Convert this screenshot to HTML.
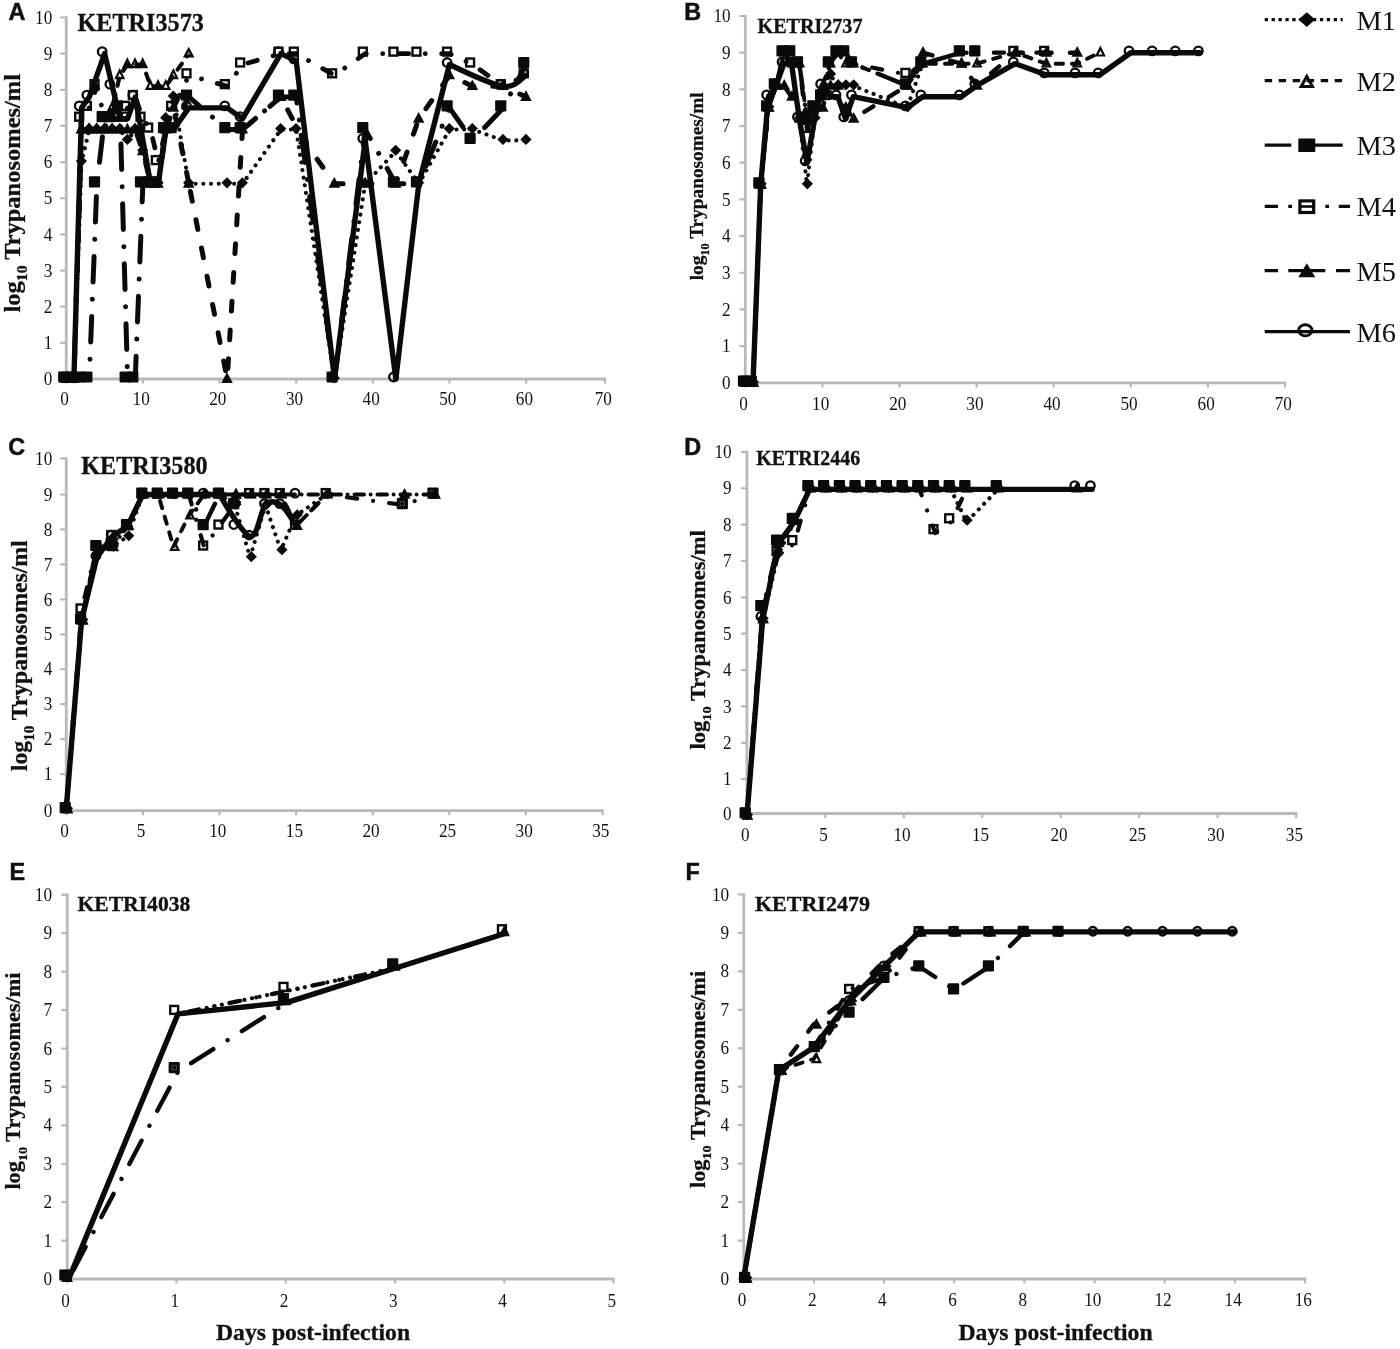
<!DOCTYPE html>
<html lang="en"><head><meta charset="utf-8"><title>Parasitaemia profiles</title>
<style>html,body{margin:0;padding:0;background:#fff}svg{display:block}</style></head>
<body>
<svg width="1400" height="1349" viewBox="0 0 1400 1349">
<rect width="1400" height="1349" fill="#fff"/>
<g id="panelA">
<path d="M66.25 16.3V379H606.2" fill="none" stroke="#b9b9b9" stroke-width="2.8"/>
<path d="M60.25 379H66.25M60.25 342.85H66.25M60.25 306.7H66.25M60.25 270.55H66.25M60.25 234.4H66.25M60.25 198.25H66.25M60.25 162.1H66.25M60.25 125.95H66.25M60.25 89.8H66.25M60.25 53.65H66.25M60.25 17.5H66.25M66.25 379V383.6M142.9 379V383.6M219.55 379V383.6M296.2 379V383.6M372.85 379V383.6M449.5 379V383.6M526.15 379V383.6M605 379V383.6" fill="none" stroke="#b9b9b9" stroke-width="2.2"/>
<g font-family='"Liberation Serif", serif' font-size="18.7" fill="#111">
<text transform="translate(52.3 385.17) scale(0.92 1)" text-anchor="end">0</text>
<text transform="translate(52.3 349.02) scale(0.92 1)" text-anchor="end">1</text>
<text transform="translate(52.3 312.87) scale(0.92 1)" text-anchor="end">2</text>
<text transform="translate(52.3 276.72) scale(0.92 1)" text-anchor="end">3</text>
<text transform="translate(52.3 240.57) scale(0.92 1)" text-anchor="end">4</text>
<text transform="translate(52.3 204.42) scale(0.92 1)" text-anchor="end">5</text>
<text transform="translate(52.3 168.27) scale(0.92 1)" text-anchor="end">6</text>
<text transform="translate(52.3 132.12) scale(0.92 1)" text-anchor="end">7</text>
<text transform="translate(52.3 95.97) scale(0.92 1)" text-anchor="end">8</text>
<text transform="translate(52.3 59.82) scale(0.92 1)" text-anchor="end">9</text>
<text transform="translate(52.3 23.67) scale(0.92 1)" text-anchor="end">10</text>
<text transform="translate(64.55 405.17) scale(0.92 1)" text-anchor="middle">0</text>
<text transform="translate(141.2 405.17) scale(0.92 1)" text-anchor="middle">10</text>
<text transform="translate(217.85 405.17) scale(0.92 1)" text-anchor="middle">20</text>
<text transform="translate(294.5 405.17) scale(0.92 1)" text-anchor="middle">30</text>
<text transform="translate(371.15 405.17) scale(0.92 1)" text-anchor="middle">40</text>
<text transform="translate(447.8 405.17) scale(0.92 1)" text-anchor="middle">50</text>
<text transform="translate(524.45 405.17) scale(0.92 1)" text-anchor="middle">60</text>
<text transform="translate(603.3 405.17) scale(0.92 1)" text-anchor="middle">70</text>
</g>
<text x="8.6" y="20.2" font-family='"Liberation Sans", sans-serif' font-weight="bold" font-size="23.4" fill="#111" stroke="#111" stroke-width="0.5">A</text>
<text x="77.5" y="30.6" font-family='"Liberation Serif", serif' font-weight="bold" font-size="24.2" fill="#111" stroke="#111" stroke-width="0.3">KETRI3573</text>
<text transform="translate(20.1 312.5) rotate(-90) scale(1 0.93)" font-family='"Liberation Serif", serif' font-weight="bold" font-size="24.5" fill="#111" stroke="#111" stroke-width="0.3">log<tspan font-size="15.68" dy="7.84">10</tspan><tspan dy="-7.84"> Trypanosomes/ml</tspan></text>
<path d="M66.25 379L73.92 379L81.58 162.1L89.25 129.56L96.91 129.56L104.58 129.56L112.24 129.56L119.91 129.56L127.57 140.41L135.24 129.56L142.9 151.26L150.56 183.79L158.23 183.79L165.89 118.72L173.56 97.03L188.89 183.79L227.22 183.79L242.54 183.79L280.87 129.56L296.2 129.56L334.52 379L365.19 183.79L395.85 151.26L418.84 183.79L449.5 129.56L472.5 129.56L503.16 140.41L526.15 140.41" fill="none" stroke="#0a0a0a" stroke-width="4.1" stroke-linecap="round" stroke-linejoin="round" stroke-dasharray="0.01 7.7"/>
<path d="M66.05 372.4L71.65 378L66.05 383.6L60.45 378Z" fill="#0a0a0a"/>
<path d="M73.72 372.4L79.31 378L73.72 383.6L68.12 378Z" fill="#0a0a0a"/>
<path d="M81.38 155.5L86.98 161.1L81.38 166.7L75.78 161.1Z" fill="#0a0a0a"/>
<path d="M89.05 122.97L94.64 128.56L89.05 134.16L83.45 128.56Z" fill="#0a0a0a"/>
<path d="M96.71 122.97L102.31 128.56L96.71 134.16L91.11 128.56Z" fill="#0a0a0a"/>
<path d="M104.38 122.97L109.97 128.56L104.38 134.16L98.78 128.56Z" fill="#0a0a0a"/>
<path d="M112.04 122.97L117.64 128.56L112.04 134.16L106.44 128.56Z" fill="#0a0a0a"/>
<path d="M119.7 122.97L125.3 128.56L119.7 134.16L114.11 128.56Z" fill="#0a0a0a"/>
<path d="M127.37 133.81L132.97 139.41L127.37 145.01L121.77 139.41Z" fill="#0a0a0a"/>
<path d="M135.04 122.97L140.64 128.56L135.04 134.16L129.44 128.56Z" fill="#0a0a0a"/>
<path d="M142.7 144.66L148.3 150.26L142.7 155.86L137.1 150.26Z" fill="#0a0a0a"/>
<path d="M150.37 177.19L155.97 182.79L150.37 188.39L144.77 182.79Z" fill="#0a0a0a"/>
<path d="M158.03 177.19L163.63 182.79L158.03 188.39L152.43 182.79Z" fill="#0a0a0a"/>
<path d="M165.69 112.12L171.29 117.72L165.69 123.32L160.09 117.72Z" fill="#0a0a0a"/>
<path d="M173.36 90.43L178.96 96.03L173.36 101.63L167.76 96.03Z" fill="#0a0a0a"/>
<path d="M188.69 177.19L194.29 182.79L188.69 188.39L183.09 182.79Z" fill="#0a0a0a"/>
<path d="M227.02 177.19L232.62 182.79L227.02 188.39L221.42 182.79Z" fill="#0a0a0a"/>
<path d="M242.34 177.19L247.94 182.79L242.34 188.39L236.75 182.79Z" fill="#0a0a0a"/>
<path d="M280.67 122.97L286.27 128.56L280.67 134.16L275.07 128.56Z" fill="#0a0a0a"/>
<path d="M296 122.97L301.6 128.56L296 134.16L290.4 128.56Z" fill="#0a0a0a"/>
<path d="M334.32 372.4L339.93 378L334.32 383.6L328.72 378Z" fill="#0a0a0a"/>
<path d="M364.99 177.19L370.59 182.79L364.99 188.39L359.38 182.79Z" fill="#0a0a0a"/>
<path d="M395.65 144.66L401.25 150.26L395.65 155.86L390.05 150.26Z" fill="#0a0a0a"/>
<path d="M418.64 177.19L424.24 182.79L418.64 188.39L413.04 182.79Z" fill="#0a0a0a"/>
<path d="M449.3 122.97L454.9 128.56L449.3 134.16L443.7 128.56Z" fill="#0a0a0a"/>
<path d="M472.3 122.97L477.9 128.56L472.3 134.16L466.69 128.56Z" fill="#0a0a0a"/>
<path d="M502.96 133.81L508.56 139.41L502.96 145.01L497.36 139.41Z" fill="#0a0a0a"/>
<path d="M525.95 133.81L531.55 139.41L525.95 145.01L520.35 139.41Z" fill="#0a0a0a"/>
<path d="M66.25 379L73.92 379L81.58 129.56L89.25 129.56L96.91 129.56L104.58 129.56L112.24 107.88L119.91 75.34L127.57 64.5L135.24 64.5L142.9 64.5L150.56 86.19L158.23 86.19L165.89 86.19L173.56 75.34L188.89 53.65" fill="none" stroke="#0a0a0a" stroke-width="4.1" stroke-linecap="round" stroke-linejoin="round" stroke-dasharray="7.4 8.9"/>
<path d="M66.05 374.12L69.75 381.7L62.35 381.7Z" fill="none" stroke="#0a0a0a" stroke-width="2.2" stroke-linejoin="miter"/>
<path d="M73.72 374.12L77.42 381.7L70.02 381.7Z" fill="none" stroke="#0a0a0a" stroke-width="2.2" stroke-linejoin="miter"/>
<path d="M81.38 124.68L85.08 132.26L77.68 132.26Z" fill="none" stroke="#0a0a0a" stroke-width="2.2" stroke-linejoin="miter"/>
<path d="M89.05 124.68L92.75 132.26L85.34 132.26Z" fill="none" stroke="#0a0a0a" stroke-width="2.2" stroke-linejoin="miter"/>
<path d="M96.71 124.68L100.41 132.26L93.01 132.26Z" fill="none" stroke="#0a0a0a" stroke-width="2.2" stroke-linejoin="miter"/>
<path d="M104.38 124.68L108.08 132.26L100.67 132.26Z" fill="none" stroke="#0a0a0a" stroke-width="2.2" stroke-linejoin="miter"/>
<path d="M112.04 102.99L115.74 110.58L108.34 110.58Z" fill="none" stroke="#0a0a0a" stroke-width="2.2" stroke-linejoin="miter"/>
<path d="M119.7 70.45L123.41 78.04L116 78.04Z" fill="none" stroke="#0a0a0a" stroke-width="2.2" stroke-linejoin="miter"/>
<path d="M127.37 59.61L131.07 67.2L123.67 67.2Z" fill="none" stroke="#0a0a0a" stroke-width="2.2" stroke-linejoin="miter"/>
<path d="M135.04 59.61L138.74 67.2L131.34 67.2Z" fill="none" stroke="#0a0a0a" stroke-width="2.2" stroke-linejoin="miter"/>
<path d="M142.7 59.61L146.4 67.2L139 67.2Z" fill="none" stroke="#0a0a0a" stroke-width="2.2" stroke-linejoin="miter"/>
<path d="M150.37 81.3L154.06 88.89L146.67 88.89Z" fill="none" stroke="#0a0a0a" stroke-width="2.2" stroke-linejoin="miter"/>
<path d="M158.03 81.3L161.73 88.89L154.33 88.89Z" fill="none" stroke="#0a0a0a" stroke-width="2.2" stroke-linejoin="miter"/>
<path d="M165.69 81.3L169.39 88.89L162 88.89Z" fill="none" stroke="#0a0a0a" stroke-width="2.2" stroke-linejoin="miter"/>
<path d="M173.36 70.45L177.06 78.04L169.66 78.04Z" fill="none" stroke="#0a0a0a" stroke-width="2.2" stroke-linejoin="miter"/>
<path d="M188.69 46.85L194.49 57.58L182.89 57.58Z" fill="#0a0a0a"/><path d="M188.69 51.05L190.59 54.85L186.79 54.85Z" fill="#777"/>
<path d="M66.25 379L73.92 379L81.58 379L89.25 379L96.91 183.79L104.58 118.72L112.24 118.72L119.91 107.88" fill="none" stroke="#0a0a0a" stroke-width="5.0" stroke-linecap="round" stroke-linejoin="round" stroke-dasharray="25.6 17.2 0.01 17.2"/>
<path d="M119.91 107.88L127.57 379L135.24 379L142.9 183.79L150.56 183.79L158.23 183.79L165.89 129.56L173.56 129.56L188.89 97.03L227.22 129.56L242.54 129.56" fill="none" stroke="#0a0a0a" stroke-width="5.0" stroke-linecap="round" stroke-linejoin="round" stroke-dasharray="25.6 17.2 0.01 17.2" stroke-dashoffset="24"/>
<path d="M242.54 129.56L280.87 97.03L296.2 97.03L334.52 379L365.19 129.56L395.85 183.79L418.84 183.79L449.5 107.88L472.5 140.41L503.16 107.88L526.15 64.5" fill="none" stroke="#0a0a0a" stroke-width="5.0" stroke-linecap="round" stroke-linejoin="round" stroke-dasharray="25.6 17.2 0.01 17.2" stroke-dashoffset="14"/>
<rect x="58.25" y="371.4" width="11.2" height="11.2" rx="1" fill="#0a0a0a"/>
<rect x="65.92" y="371.4" width="11.2" height="11.2" rx="1" fill="#0a0a0a"/>
<rect x="73.58" y="371.4" width="11.2" height="11.2" rx="1" fill="#0a0a0a"/>
<rect x="81.25" y="371.4" width="11.2" height="11.2" rx="1" fill="#0a0a0a"/>
<rect x="88.91" y="176.19" width="11.2" height="11.2" rx="1" fill="#0a0a0a"/>
<rect x="96.58" y="111.12" width="11.2" height="11.2" rx="1" fill="#0a0a0a"/>
<rect x="104.24" y="111.12" width="11.2" height="11.2" rx="1" fill="#0a0a0a"/>
<rect x="111.91" y="100.28" width="11.2" height="11.2" rx="1" fill="#0a0a0a"/>
<rect x="119.57" y="371.4" width="11.2" height="11.2" rx="1" fill="#0a0a0a"/>
<rect x="127.24" y="371.4" width="11.2" height="11.2" rx="1" fill="#0a0a0a"/>
<rect x="134.9" y="176.19" width="11.2" height="11.2" rx="1" fill="#0a0a0a"/>
<rect x="142.56" y="176.19" width="11.2" height="11.2" rx="1" fill="#0a0a0a"/>
<rect x="150.23" y="176.19" width="11.2" height="11.2" rx="1" fill="#0a0a0a"/>
<rect x="157.89" y="121.97" width="11.2" height="11.2" rx="1" fill="#0a0a0a"/>
<rect x="165.56" y="121.97" width="11.2" height="11.2" rx="1" fill="#0a0a0a"/>
<rect x="180.89" y="89.43" width="11.2" height="11.2" rx="1" fill="#0a0a0a"/>
<rect x="219.22" y="121.97" width="11.2" height="11.2" rx="1" fill="#0a0a0a"/>
<rect x="234.54" y="121.97" width="11.2" height="11.2" rx="1" fill="#0a0a0a"/>
<rect x="272.87" y="89.43" width="11.2" height="11.2" rx="1" fill="#0a0a0a"/>
<rect x="288.2" y="89.43" width="11.2" height="11.2" rx="1" fill="#0a0a0a"/>
<rect x="326.52" y="371.4" width="11.2" height="11.2" rx="1" fill="#0a0a0a"/>
<rect x="357.19" y="121.97" width="11.2" height="11.2" rx="1" fill="#0a0a0a"/>
<rect x="387.85" y="176.19" width="11.2" height="11.2" rx="1" fill="#0a0a0a"/>
<rect x="410.84" y="176.19" width="11.2" height="11.2" rx="1" fill="#0a0a0a"/>
<rect x="441.5" y="100.28" width="11.2" height="11.2" rx="1" fill="#0a0a0a"/>
<rect x="464.5" y="132.81" width="11.2" height="11.2" rx="1" fill="#0a0a0a"/>
<rect x="495.16" y="100.28" width="11.2" height="11.2" rx="1" fill="#0a0a0a"/>
<rect x="518.15" y="56.9" width="11.2" height="11.2" rx="1" fill="#0a0a0a"/>
<path d="M66.25 379L73.92 379L81.58 118.72L89.25 107.88L96.91 86.19L104.58 118.72L112.24 118.72L119.91 118.72L127.57 107.88L135.24 97.03L142.9 118.72L150.56 129.56L158.23 162.1L165.89 129.56L173.56 107.88L188.89 75.34" fill="none" stroke="#0a0a0a" stroke-width="4.8" stroke-linecap="round" stroke-linejoin="round" stroke-dasharray="9.7 16.4 0.01 16.4"/>
<path d="M188.89 75.34L227.22 86.19L242.54 64.5L280.87 53.65L296.2 53.65" fill="none" stroke="#0a0a0a" stroke-width="4.8" stroke-linecap="round" stroke-linejoin="round" stroke-dasharray="9.7 16.4 0.01 16.4" stroke-dashoffset="13"/>
<path d="M296.2 53.65L334.52 75.34L365.19 53.65L395.85 53.65L418.84 53.65L449.5 53.65L472.5 64.5L503.16 86.19L526.15 75.34" fill="none" stroke="#0a0a0a" stroke-width="4.8" stroke-linecap="round" stroke-linejoin="round" stroke-dasharray="9.7 16.4 0.01 16.4" stroke-dashoffset="12"/>
<rect x="59.9" y="373.05" width="7.9" height="7.9" fill="none" stroke="#0a0a0a" stroke-width="2.4"/>
<rect x="67.56" y="373.05" width="7.9" height="7.9" fill="none" stroke="#0a0a0a" stroke-width="2.4"/>
<rect x="75.23" y="112.77" width="7.9" height="7.9" fill="none" stroke="#0a0a0a" stroke-width="2.4"/>
<rect x="82.89" y="101.92" width="7.9" height="7.9" fill="none" stroke="#0a0a0a" stroke-width="2.4"/>
<rect x="90.56" y="80.23" width="7.9" height="7.9" fill="none" stroke="#0a0a0a" stroke-width="2.4"/>
<rect x="98.22" y="112.77" width="7.9" height="7.9" fill="none" stroke="#0a0a0a" stroke-width="2.4"/>
<rect x="105.89" y="112.77" width="7.9" height="7.9" fill="none" stroke="#0a0a0a" stroke-width="2.4"/>
<rect x="113.55" y="112.77" width="7.9" height="7.9" fill="none" stroke="#0a0a0a" stroke-width="2.4"/>
<rect x="121.22" y="101.92" width="7.9" height="7.9" fill="none" stroke="#0a0a0a" stroke-width="2.4"/>
<rect x="128.89" y="91.08" width="7.9" height="7.9" fill="none" stroke="#0a0a0a" stroke-width="2.4"/>
<rect x="136.55" y="112.77" width="7.9" height="7.9" fill="none" stroke="#0a0a0a" stroke-width="2.4"/>
<rect x="144.22" y="123.61" width="7.9" height="7.9" fill="none" stroke="#0a0a0a" stroke-width="2.4"/>
<rect x="151.88" y="156.15" width="7.9" height="7.9" fill="none" stroke="#0a0a0a" stroke-width="2.4"/>
<rect x="159.54" y="123.61" width="7.9" height="7.9" fill="none" stroke="#0a0a0a" stroke-width="2.4"/>
<rect x="167.21" y="101.92" width="7.9" height="7.9" fill="none" stroke="#0a0a0a" stroke-width="2.4"/>
<rect x="182.54" y="69.39" width="7.9" height="7.9" fill="none" stroke="#0a0a0a" stroke-width="2.4"/>
<rect x="220.87" y="80.23" width="7.9" height="7.9" fill="none" stroke="#0a0a0a" stroke-width="2.4"/>
<rect x="236.19" y="58.55" width="7.9" height="7.9" fill="none" stroke="#0a0a0a" stroke-width="2.4"/>
<rect x="274.52" y="47.7" width="7.9" height="7.9" fill="none" stroke="#0a0a0a" stroke-width="2.4"/>
<rect x="289.85" y="47.7" width="7.9" height="7.9" fill="none" stroke="#0a0a0a" stroke-width="2.4"/>
<rect x="328.18" y="69.39" width="7.9" height="7.9" fill="none" stroke="#0a0a0a" stroke-width="2.4"/>
<rect x="358.84" y="47.7" width="7.9" height="7.9" fill="none" stroke="#0a0a0a" stroke-width="2.4"/>
<rect x="389.5" y="47.7" width="7.9" height="7.9" fill="none" stroke="#0a0a0a" stroke-width="2.4"/>
<rect x="412.49" y="47.7" width="7.9" height="7.9" fill="none" stroke="#0a0a0a" stroke-width="2.4"/>
<rect x="443.15" y="47.7" width="7.9" height="7.9" fill="none" stroke="#0a0a0a" stroke-width="2.4"/>
<rect x="466.15" y="58.55" width="7.9" height="7.9" fill="none" stroke="#0a0a0a" stroke-width="2.4"/>
<rect x="496.81" y="80.23" width="7.9" height="7.9" fill="none" stroke="#0a0a0a" stroke-width="2.4"/>
<rect x="519.8" y="69.39" width="7.9" height="7.9" fill="none" stroke="#0a0a0a" stroke-width="2.4"/>
<path d="M66.25 379L73.92 379L81.58 129.56L89.25 129.56L96.91 129.56L104.58 129.56L112.24 129.56L119.91 129.56L127.57 129.56L135.24 129.56L142.9 151.26L150.56 183.79L158.23 183.79L165.89 129.56L173.56 107.88L188.89 183.79" fill="none" stroke="#0a0a0a" stroke-width="5.0" stroke-linecap="round" stroke-linejoin="round" stroke-dasharray="9.9 18.9"/>
<path d="M188.89 183.79L227.22 379L242.54 129.56" fill="none" stroke="#0a0a0a" stroke-width="5.0" stroke-linecap="round" stroke-linejoin="round" stroke-dasharray="9.9 18.9" stroke-dashoffset="21"/>
<path d="M242.54 129.56L280.87 97.03L303.87 140.41L334.52 183.79L365.19 183.79L395.85 183.79L418.84 118.72L449.5 75.34L472.5 86.19L503.16 86.19L526.15 97.03" fill="none" stroke="#0a0a0a" stroke-width="5.0" stroke-linecap="round" stroke-linejoin="round" stroke-dasharray="9.9 18.9" stroke-dashoffset="21.6"/>
<path d="M66.05 372.2L71.85 382.93L60.25 382.93Z" fill="#0a0a0a"/>
<path d="M73.72 372.2L79.52 382.93L67.92 382.93Z" fill="#0a0a0a"/>
<path d="M81.38 122.77L87.18 133.5L75.58 133.5Z" fill="#0a0a0a"/>
<path d="M89.05 122.77L94.84 133.5L83.25 133.5Z" fill="#0a0a0a"/>
<path d="M96.71 122.77L102.51 133.5L90.91 133.5Z" fill="#0a0a0a"/>
<path d="M104.38 122.77L110.17 133.5L98.58 133.5Z" fill="#0a0a0a"/>
<path d="M112.04 122.77L117.84 133.5L106.24 133.5Z" fill="#0a0a0a"/>
<path d="M119.7 122.77L125.5 133.5L113.91 133.5Z" fill="#0a0a0a"/>
<path d="M127.37 122.77L133.17 133.5L121.57 133.5Z" fill="#0a0a0a"/>
<path d="M135.04 122.77L140.84 133.5L129.24 133.5Z" fill="#0a0a0a"/>
<path d="M142.7 144.46L148.5 155.19L136.9 155.19Z" fill="#0a0a0a"/>
<path d="M150.37 176.99L156.17 187.72L144.56 187.72Z" fill="#0a0a0a"/>
<path d="M158.03 176.99L163.83 187.72L152.23 187.72Z" fill="#0a0a0a"/>
<path d="M165.69 122.77L171.5 133.5L159.89 133.5Z" fill="#0a0a0a"/>
<path d="M173.36 101.08L179.16 111.81L167.56 111.81Z" fill="#0a0a0a"/>
<path d="M188.69 176.99L194.49 187.72L182.89 187.72Z" fill="#0a0a0a"/>
<path d="M227.02 372.2L232.82 382.93L221.22 382.93Z" fill="#0a0a0a"/>
<path d="M242.34 122.77L248.15 133.5L236.54 133.5Z" fill="#0a0a0a"/>
<path d="M280.67 90.23L286.47 100.96L274.87 100.96Z" fill="#0a0a0a"/>
<path d="M303.67 133.61L309.47 144.34L297.87 144.34Z" fill="#0a0a0a"/>
<path d="M334.32 176.99L340.12 187.72L328.52 187.72Z" fill="#0a0a0a"/>
<path d="M364.99 176.99L370.79 187.72L359.19 187.72Z" fill="#0a0a0a"/>
<path d="M395.65 176.99L401.45 187.72L389.85 187.72Z" fill="#0a0a0a"/>
<path d="M418.64 111.92L424.44 122.65L412.84 122.65Z" fill="#0a0a0a"/>
<path d="M449.3 68.54L455.1 79.27L443.5 79.27Z" fill="#0a0a0a"/>
<path d="M472.3 79.39L478.1 90.12L466.5 90.12Z" fill="#0a0a0a"/>
<path d="M502.96 79.39L508.76 90.12L497.16 90.12Z" fill="#0a0a0a"/>
<path d="M525.95 90.23L531.75 100.96L520.15 100.96Z" fill="#0a0a0a"/>
<path d="M66.25 379L73.92 379L81.58 107.88L89.25 97.03L104.58 53.65L112.24 86.19L119.91 118.72L127.57 118.72L135.24 97.03L150.56 183.79L158.23 183.79L165.89 129.56L173.56 129.56L188.89 107.88L227.22 107.88L242.54 118.72L280.87 53.65L296.2 60.88L334.52 379L365.19 140.41L395.85 379L418.84 183.79L449.5 64.5C449.5 64.5 490.38 84.38 503.16 86.19C515.93 87.99 522.32 77.15 526.15 75.34" fill="none" stroke="#0a0a0a" stroke-width="5.4" stroke-linecap="round" stroke-linejoin="round"/>
<circle cx="63.85" cy="377" r="4.25" fill="none" stroke="#0a0a0a" stroke-width="2.3"/>
<circle cx="71.52" cy="377" r="4.25" fill="none" stroke="#0a0a0a" stroke-width="2.3"/>
<circle cx="79.18" cy="105.88" r="4.25" fill="none" stroke="#0a0a0a" stroke-width="2.3"/>
<circle cx="86.84" cy="95.03" r="4.25" fill="none" stroke="#0a0a0a" stroke-width="2.3"/>
<circle cx="102.17" cy="51.65" r="4.25" fill="none" stroke="#0a0a0a" stroke-width="2.3"/>
<circle cx="109.84" cy="84.19" r="4.25" fill="none" stroke="#0a0a0a" stroke-width="2.3"/>
<circle cx="117.5" cy="116.72" r="4.25" fill="none" stroke="#0a0a0a" stroke-width="2.3"/>
<circle cx="125.17" cy="116.72" r="4.25" fill="none" stroke="#0a0a0a" stroke-width="2.3"/>
<circle cx="132.84" cy="95.03" r="4.25" fill="none" stroke="#0a0a0a" stroke-width="2.3"/>
<circle cx="148.16" cy="181.79" r="4.25" fill="none" stroke="#0a0a0a" stroke-width="2.3"/>
<circle cx="155.83" cy="181.79" r="4.25" fill="none" stroke="#0a0a0a" stroke-width="2.3"/>
<circle cx="163.49" cy="127.56" r="4.25" fill="none" stroke="#0a0a0a" stroke-width="2.3"/>
<circle cx="171.16" cy="127.56" r="4.25" fill="none" stroke="#0a0a0a" stroke-width="2.3"/>
<circle cx="186.49" cy="105.88" r="4.25" fill="none" stroke="#0a0a0a" stroke-width="2.3"/>
<circle cx="224.81" cy="105.88" r="4.25" fill="none" stroke="#0a0a0a" stroke-width="2.3"/>
<circle cx="240.14" cy="116.72" r="4.25" fill="none" stroke="#0a0a0a" stroke-width="2.3"/>
<circle cx="278.47" cy="51.65" r="4.25" fill="none" stroke="#0a0a0a" stroke-width="2.3"/>
<circle cx="293.8" cy="58.88" r="4.25" fill="none" stroke="#0a0a0a" stroke-width="2.3"/>
<circle cx="332.12" cy="377" r="4.25" fill="none" stroke="#0a0a0a" stroke-width="2.3"/>
<circle cx="362.79" cy="138.41" r="4.25" fill="none" stroke="#0a0a0a" stroke-width="2.3"/>
<circle cx="393.45" cy="377" r="4.25" fill="none" stroke="#0a0a0a" stroke-width="2.3"/>
<circle cx="416.44" cy="181.79" r="4.25" fill="none" stroke="#0a0a0a" stroke-width="2.3"/>
<circle cx="447.1" cy="62.5" r="4.25" fill="none" stroke="#0a0a0a" stroke-width="2.3"/>
<circle cx="500.76" cy="84.19" r="4.25" fill="none" stroke="#0a0a0a" stroke-width="2.3"/>
<circle cx="523.75" cy="73.34" r="4.25" fill="none" stroke="#0a0a0a" stroke-width="2.3"/>
</g>
<g id="panelB">
<path d="M745.3 14.8V382.8H1286.2" fill="none" stroke="#b9b9b9" stroke-width="2.8"/>
<path d="M739.3 382.8H745.3M739.3 346.12H745.3M739.3 309.44H745.3M739.3 272.76H745.3M739.3 236.08H745.3M739.3 199.4H745.3M739.3 162.72H745.3M739.3 126.04H745.3M739.3 89.36H745.3M739.3 52.68H745.3M739.3 16H745.3M745.3 382.8V387.4M822.4 382.8V387.4M899.5 382.8V387.4M976.6 382.8V387.4M1053.7 382.8V387.4M1130.8 382.8V387.4M1207.9 382.8V387.4M1285 382.8V387.4" fill="none" stroke="#b9b9b9" stroke-width="2.2"/>
<g font-family='"Liberation Serif", serif' font-size="18.7" fill="#111">
<text transform="translate(730.6 388.97) scale(0.92 1)" text-anchor="end">0</text>
<text transform="translate(730.6 352.29) scale(0.92 1)" text-anchor="end">1</text>
<text transform="translate(730.6 315.61) scale(0.92 1)" text-anchor="end">2</text>
<text transform="translate(730.6 278.93) scale(0.92 1)" text-anchor="end">3</text>
<text transform="translate(730.6 242.25) scale(0.92 1)" text-anchor="end">4</text>
<text transform="translate(730.6 205.57) scale(0.92 1)" text-anchor="end">5</text>
<text transform="translate(730.6 168.89) scale(0.92 1)" text-anchor="end">6</text>
<text transform="translate(730.6 132.21) scale(0.92 1)" text-anchor="end">7</text>
<text transform="translate(730.6 95.53) scale(0.92 1)" text-anchor="end">8</text>
<text transform="translate(730.6 58.85) scale(0.92 1)" text-anchor="end">9</text>
<text transform="translate(730.6 22.17) scale(0.92 1)" text-anchor="end">10</text>
<text transform="translate(743.6 409.87) scale(0.92 1)" text-anchor="middle">0</text>
<text transform="translate(820.7 409.87) scale(0.92 1)" text-anchor="middle">10</text>
<text transform="translate(897.8 409.87) scale(0.92 1)" text-anchor="middle">20</text>
<text transform="translate(974.9 409.87) scale(0.92 1)" text-anchor="middle">30</text>
<text transform="translate(1052 409.87) scale(0.92 1)" text-anchor="middle">40</text>
<text transform="translate(1129.1 409.87) scale(0.92 1)" text-anchor="middle">50</text>
<text transform="translate(1206.2 409.87) scale(0.92 1)" text-anchor="middle">60</text>
<text transform="translate(1283.3 409.87) scale(0.92 1)" text-anchor="middle">70</text>
</g>
<text x="684.3" y="20.2" font-family='"Liberation Sans", sans-serif' font-weight="bold" font-size="23.4" fill="#111" stroke="#111" stroke-width="0.5">B</text>
<text x="757.5" y="32.75" font-family='"Liberation Serif", serif' font-weight="bold" font-size="20.1" fill="#111" stroke="#111" stroke-width="0.3">KETRI2737</text>
<text transform="translate(703.25 280.3) rotate(-90) scale(1 0.93)" font-family='"Liberation Serif", serif' font-weight="bold" font-size="19.3" fill="#111" stroke="#111" stroke-width="0.3">log<tspan font-size="12.35" dy="6.18">10</tspan><tspan dy="-6.18"> Trypanosomes/ml</tspan></text>
<path d="M745.3 382.8L753.01 382.8L760.72 184.73L768.43 107.7L776.14 85.69L783.85 52.68L791.56 63.68L799.27 118.7L806.98 184.73L814.69 118.7L822.4 96.7L830.11 74.69L837.82 85.69L845.53 85.69L853.24 85.69L907.21 107.7L922.63 63.68" fill="none" stroke="#0a0a0a" stroke-width="4.1" stroke-linecap="round" stroke-linejoin="round" stroke-dasharray="0.01 7.7"/>
<path d="M745.7 376.3L751.3 381.9L745.7 387.5L740.1 381.9Z" fill="#0a0a0a"/>
<path d="M753.41 376.3L759.01 381.9L753.41 387.5L747.81 381.9Z" fill="#0a0a0a"/>
<path d="M761.12 178.23L766.72 183.83L761.12 189.43L755.52 183.83Z" fill="#0a0a0a"/>
<path d="M768.83 101.2L774.43 106.8L768.83 112.4L763.23 106.8Z" fill="#0a0a0a"/>
<path d="M776.54 79.19L782.14 84.79L776.54 90.39L770.94 84.79Z" fill="#0a0a0a"/>
<path d="M784.25 46.18L789.85 51.78L784.25 57.38L778.65 51.78Z" fill="#0a0a0a"/>
<path d="M791.96 57.18L797.56 62.78L791.96 68.38L786.36 62.78Z" fill="#0a0a0a"/>
<path d="M799.67 112.2L805.27 117.8L799.67 123.4L794.07 117.8Z" fill="#0a0a0a"/>
<path d="M807.38 178.23L812.98 183.83L807.38 189.43L801.78 183.83Z" fill="#0a0a0a"/>
<path d="M815.09 112.2L820.69 117.8L815.09 123.4L809.49 117.8Z" fill="#0a0a0a"/>
<path d="M822.8 90.2L828.4 95.8L822.8 101.4L817.2 95.8Z" fill="#0a0a0a"/>
<path d="M830.51 68.19L836.11 73.79L830.51 79.39L824.91 73.79Z" fill="#0a0a0a"/>
<path d="M838.22 79.19L843.82 84.79L838.22 90.39L832.62 84.79Z" fill="#0a0a0a"/>
<path d="M845.93 79.19L851.53 84.79L845.93 90.39L840.33 84.79Z" fill="#0a0a0a"/>
<path d="M853.64 79.19L859.24 84.79L853.64 90.39L848.04 84.79Z" fill="#0a0a0a"/>
<path d="M907.61 101.2L913.21 106.8L907.61 112.4L902.01 106.8Z" fill="#0a0a0a"/>
<path d="M923.03 57.18L928.63 62.78L923.03 68.38L917.43 62.78Z" fill="#0a0a0a"/>
<path d="M745.3 382.8L753.01 382.8L760.72 184.73L768.43 107.7L776.14 85.69L783.85 52.68L791.56 63.68L799.27 63.68L806.98 118.7L814.69 107.7L822.4 85.69L830.11 63.68L837.82 52.68L845.53 63.68L853.24 63.68L907.21 85.69L922.63 63.68L961.18 63.68L976.6 63.68L1015.15 52.68L1045.99 63.68L1076.83 63.68L1099.96 52.68" fill="none" stroke="#0a0a0a" stroke-width="3.9" stroke-linecap="round" stroke-linejoin="round" stroke-dasharray="7.4 8.9"/>
<path d="M745.7 378.02L749.4 385.6L742 385.6Z" fill="none" stroke="#0a0a0a" stroke-width="2.2" stroke-linejoin="miter"/>
<path d="M753.41 378.02L757.11 385.6L749.71 385.6Z" fill="none" stroke="#0a0a0a" stroke-width="2.2" stroke-linejoin="miter"/>
<path d="M761.12 179.94L764.82 187.53L757.42 187.53Z" fill="none" stroke="#0a0a0a" stroke-width="2.2" stroke-linejoin="miter"/>
<path d="M768.83 102.91L772.53 110.5L765.13 110.5Z" fill="none" stroke="#0a0a0a" stroke-width="2.2" stroke-linejoin="miter"/>
<path d="M776.54 80.91L780.24 88.49L772.84 88.49Z" fill="none" stroke="#0a0a0a" stroke-width="2.2" stroke-linejoin="miter"/>
<path d="M784.25 47.9L787.95 55.48L780.55 55.48Z" fill="none" stroke="#0a0a0a" stroke-width="2.2" stroke-linejoin="miter"/>
<path d="M791.96 58.9L795.66 66.48L788.26 66.48Z" fill="none" stroke="#0a0a0a" stroke-width="2.2" stroke-linejoin="miter"/>
<path d="M799.67 58.9L803.37 66.48L795.97 66.48Z" fill="none" stroke="#0a0a0a" stroke-width="2.2" stroke-linejoin="miter"/>
<path d="M807.38 113.92L811.08 121.5L803.68 121.5Z" fill="none" stroke="#0a0a0a" stroke-width="2.2" stroke-linejoin="miter"/>
<path d="M815.09 102.91L818.79 110.5L811.39 110.5Z" fill="none" stroke="#0a0a0a" stroke-width="2.2" stroke-linejoin="miter"/>
<path d="M822.8 80.91L826.5 88.49L819.1 88.49Z" fill="none" stroke="#0a0a0a" stroke-width="2.2" stroke-linejoin="miter"/>
<path d="M830.51 58.9L834.21 66.48L826.81 66.48Z" fill="none" stroke="#0a0a0a" stroke-width="2.2" stroke-linejoin="miter"/>
<path d="M838.22 47.9L841.92 55.48L834.52 55.48Z" fill="none" stroke="#0a0a0a" stroke-width="2.2" stroke-linejoin="miter"/>
<path d="M845.93 58.9L849.63 66.48L842.23 66.48Z" fill="none" stroke="#0a0a0a" stroke-width="2.2" stroke-linejoin="miter"/>
<path d="M853.64 58.9L857.34 66.48L849.94 66.48Z" fill="none" stroke="#0a0a0a" stroke-width="2.2" stroke-linejoin="miter"/>
<path d="M907.61 80.91L911.31 88.49L903.91 88.49Z" fill="none" stroke="#0a0a0a" stroke-width="2.2" stroke-linejoin="miter"/>
<path d="M923.03 58.9L926.73 66.48L919.33 66.48Z" fill="none" stroke="#0a0a0a" stroke-width="2.2" stroke-linejoin="miter"/>
<path d="M961.58 58.9L965.28 66.48L957.88 66.48Z" fill="none" stroke="#0a0a0a" stroke-width="2.2" stroke-linejoin="miter"/>
<path d="M977 58.9L980.7 66.48L973.3 66.48Z" fill="none" stroke="#0a0a0a" stroke-width="2.2" stroke-linejoin="miter"/>
<path d="M1015.55 47.9L1019.25 55.48L1011.85 55.48Z" fill="none" stroke="#0a0a0a" stroke-width="2.2" stroke-linejoin="miter"/>
<path d="M1046.39 58.9L1050.09 66.48L1042.69 66.48Z" fill="none" stroke="#0a0a0a" stroke-width="2.2" stroke-linejoin="miter"/>
<path d="M1077.23 58.9L1080.93 66.48L1073.53 66.48Z" fill="none" stroke="#0a0a0a" stroke-width="2.2" stroke-linejoin="miter"/>
<path d="M1100.36 47.9L1104.06 55.48L1096.66 55.48Z" fill="none" stroke="#0a0a0a" stroke-width="2.2" stroke-linejoin="miter"/>
<path d="M745.3 382.8L753.01 382.8L760.72 184.73L768.43 107.7L776.14 85.69L783.85 52.68L791.56 52.68L799.27 63.68L806.98 118.7L814.69 107.7L822.4 96.7L830.11 63.68L837.82 52.68L845.53 52.68L853.24 63.68L907.21 85.69L922.63 63.68L961.18 52.68L976.6 52.68" fill="none" stroke="#0a0a0a" stroke-width="4.4" stroke-linecap="round" stroke-linejoin="round" stroke-dasharray="26.2 16.9 0.01 16.9"/>
<rect x="737.9" y="375.4" width="11.2" height="11.2" rx="1" fill="#0a0a0a"/>
<rect x="745.61" y="375.4" width="11.2" height="11.2" rx="1" fill="#0a0a0a"/>
<rect x="753.32" y="177.33" width="11.2" height="11.2" rx="1" fill="#0a0a0a"/>
<rect x="761.03" y="100.3" width="11.2" height="11.2" rx="1" fill="#0a0a0a"/>
<rect x="768.74" y="78.29" width="11.2" height="11.2" rx="1" fill="#0a0a0a"/>
<rect x="776.45" y="45.28" width="11.2" height="11.2" rx="1" fill="#0a0a0a"/>
<rect x="784.16" y="45.28" width="11.2" height="11.2" rx="1" fill="#0a0a0a"/>
<rect x="791.87" y="56.28" width="11.2" height="11.2" rx="1" fill="#0a0a0a"/>
<rect x="799.58" y="111.3" width="11.2" height="11.2" rx="1" fill="#0a0a0a"/>
<rect x="807.29" y="100.3" width="11.2" height="11.2" rx="1" fill="#0a0a0a"/>
<rect x="815" y="89.3" width="11.2" height="11.2" rx="1" fill="#0a0a0a"/>
<rect x="822.71" y="56.28" width="11.2" height="11.2" rx="1" fill="#0a0a0a"/>
<rect x="830.42" y="45.28" width="11.2" height="11.2" rx="1" fill="#0a0a0a"/>
<rect x="838.13" y="45.28" width="11.2" height="11.2" rx="1" fill="#0a0a0a"/>
<rect x="845.84" y="56.28" width="11.2" height="11.2" rx="1" fill="#0a0a0a"/>
<rect x="899.81" y="78.29" width="11.2" height="11.2" rx="1" fill="#0a0a0a"/>
<rect x="915.23" y="56.28" width="11.2" height="11.2" rx="1" fill="#0a0a0a"/>
<rect x="953.78" y="45.28" width="11.2" height="11.2" rx="1" fill="#0a0a0a"/>
<rect x="969.2" y="45.28" width="11.2" height="11.2" rx="1" fill="#0a0a0a"/>
<path d="M745.3 382.8L753.01 382.8L760.72 184.73L768.43 107.7L776.14 85.69L783.85 52.68L791.56 52.68L799.27 63.68L806.98 129.71L814.69 107.7L822.4 96.7L830.11 63.68L837.82 52.68L845.53 52.68L853.24 63.68L907.21 74.69L922.63 63.68L961.18 52.68L976.6 52.68L1015.15 52.68L1045.99 52.68" fill="none" stroke="#0a0a0a" stroke-width="4.2" stroke-linecap="round" stroke-linejoin="round" stroke-dasharray="10.3 16.1 0.01 16.1"/>
<rect x="739.55" y="377.05" width="7.9" height="7.9" fill="none" stroke="#0a0a0a" stroke-width="2.4"/>
<rect x="747.26" y="377.05" width="7.9" height="7.9" fill="none" stroke="#0a0a0a" stroke-width="2.4"/>
<rect x="754.97" y="178.98" width="7.9" height="7.9" fill="none" stroke="#0a0a0a" stroke-width="2.4"/>
<rect x="762.68" y="101.95" width="7.9" height="7.9" fill="none" stroke="#0a0a0a" stroke-width="2.4"/>
<rect x="770.39" y="79.94" width="7.9" height="7.9" fill="none" stroke="#0a0a0a" stroke-width="2.4"/>
<rect x="778.1" y="46.93" width="7.9" height="7.9" fill="none" stroke="#0a0a0a" stroke-width="2.4"/>
<rect x="785.81" y="46.93" width="7.9" height="7.9" fill="none" stroke="#0a0a0a" stroke-width="2.4"/>
<rect x="793.52" y="57.93" width="7.9" height="7.9" fill="none" stroke="#0a0a0a" stroke-width="2.4"/>
<rect x="801.23" y="123.96" width="7.9" height="7.9" fill="none" stroke="#0a0a0a" stroke-width="2.4"/>
<rect x="808.94" y="101.95" width="7.9" height="7.9" fill="none" stroke="#0a0a0a" stroke-width="2.4"/>
<rect x="816.65" y="90.95" width="7.9" height="7.9" fill="none" stroke="#0a0a0a" stroke-width="2.4"/>
<rect x="824.36" y="57.93" width="7.9" height="7.9" fill="none" stroke="#0a0a0a" stroke-width="2.4"/>
<rect x="832.07" y="46.93" width="7.9" height="7.9" fill="none" stroke="#0a0a0a" stroke-width="2.4"/>
<rect x="839.78" y="46.93" width="7.9" height="7.9" fill="none" stroke="#0a0a0a" stroke-width="2.4"/>
<rect x="847.49" y="57.93" width="7.9" height="7.9" fill="none" stroke="#0a0a0a" stroke-width="2.4"/>
<rect x="901.46" y="68.94" width="7.9" height="7.9" fill="none" stroke="#0a0a0a" stroke-width="2.4"/>
<rect x="916.88" y="57.93" width="7.9" height="7.9" fill="none" stroke="#0a0a0a" stroke-width="2.4"/>
<rect x="955.43" y="46.93" width="7.9" height="7.9" fill="none" stroke="#0a0a0a" stroke-width="2.4"/>
<rect x="970.85" y="46.93" width="7.9" height="7.9" fill="none" stroke="#0a0a0a" stroke-width="2.4"/>
<rect x="1009.4" y="46.93" width="7.9" height="7.9" fill="none" stroke="#0a0a0a" stroke-width="2.4"/>
<rect x="1040.24" y="46.93" width="7.9" height="7.9" fill="none" stroke="#0a0a0a" stroke-width="2.4"/>
<path d="M745.3 382.8L753.01 382.8L760.72 184.73L768.43 107.7L776.14 85.69L783.85 85.69L791.56 96.7L799.27 118.7L806.98 118.7L814.69 107.7L822.4 107.7L830.11 85.69L837.82 85.69L845.53 107.7L853.24 118.7L907.21 85.69L922.63 52.68L961.18 63.68L976.6 85.69L1015.15 52.68L1045.99 52.68L1076.83 52.68" fill="none" stroke="#0a0a0a" stroke-width="4.4" stroke-linecap="round" stroke-linejoin="round" stroke-dasharray="10.5 18.3"/>
<path d="M745.7 376.1L751.5 386.83L739.9 386.83Z" fill="#0a0a0a"/>
<path d="M753.41 376.1L759.21 386.83L747.61 386.83Z" fill="#0a0a0a"/>
<path d="M761.12 178.03L766.92 188.76L755.32 188.76Z" fill="#0a0a0a"/>
<path d="M768.83 101L774.63 111.73L763.03 111.73Z" fill="#0a0a0a"/>
<path d="M776.54 78.99L782.34 89.72L770.74 89.72Z" fill="#0a0a0a"/>
<path d="M784.25 78.99L790.05 89.72L778.45 89.72Z" fill="#0a0a0a"/>
<path d="M791.96 90L797.76 100.73L786.16 100.73Z" fill="#0a0a0a"/>
<path d="M799.67 112L805.47 122.73L793.87 122.73Z" fill="#0a0a0a"/>
<path d="M807.38 112L813.18 122.73L801.58 122.73Z" fill="#0a0a0a"/>
<path d="M815.09 101L820.89 111.73L809.29 111.73Z" fill="#0a0a0a"/>
<path d="M822.8 101L828.6 111.73L817 111.73Z" fill="#0a0a0a"/>
<path d="M830.51 78.99L836.31 89.72L824.71 89.72Z" fill="#0a0a0a"/>
<path d="M838.22 78.99L844.02 89.72L832.42 89.72Z" fill="#0a0a0a"/>
<path d="M845.93 101L851.73 111.73L840.13 111.73Z" fill="#0a0a0a"/>
<path d="M853.64 112L859.44 122.73L847.84 122.73Z" fill="#0a0a0a"/>
<path d="M907.61 78.99L913.41 89.72L901.81 89.72Z" fill="#0a0a0a"/>
<path d="M923.03 45.98L928.83 56.71L917.23 56.71Z" fill="#0a0a0a"/>
<path d="M961.58 56.98L967.38 67.71L955.78 67.71Z" fill="#0a0a0a"/>
<path d="M977 78.99L982.8 89.72L971.2 89.72Z" fill="#0a0a0a"/>
<path d="M1015.55 45.98L1021.35 56.71L1009.75 56.71Z" fill="#0a0a0a"/>
<path d="M1046.39 45.98L1052.19 56.71L1040.59 56.71Z" fill="#0a0a0a"/>
<path d="M1077.23 45.98L1083.03 56.71L1071.43 56.71Z" fill="#0a0a0a"/>
<path d="M745.3 382.8L753.01 382.8L760.72 184.73L768.43 96.7L776.14 85.69L783.85 63.68L791.56 63.68L799.27 118.7L806.98 162.72L814.69 118.7L822.4 85.69L830.11 96.7L837.82 96.7L845.53 118.7L853.24 96.7L907.21 107.7L922.63 96.7L961.18 96.7L976.6 85.69L1015.15 63.68L1045.99 74.69L1076.83 74.69L1099.96 74.69L1130.8 52.68L1153.93 52.68L1177.06 52.68L1200.19 52.68" fill="none" stroke="#0a0a0a" stroke-width="5.4" stroke-linecap="round" stroke-linejoin="round"/>
<circle cx="743.5" cy="381" r="4.25" fill="none" stroke="#0a0a0a" stroke-width="2.3"/>
<circle cx="751.21" cy="381" r="4.25" fill="none" stroke="#0a0a0a" stroke-width="2.3"/>
<circle cx="758.92" cy="182.93" r="4.25" fill="none" stroke="#0a0a0a" stroke-width="2.3"/>
<circle cx="766.63" cy="94.9" r="4.25" fill="none" stroke="#0a0a0a" stroke-width="2.3"/>
<circle cx="774.34" cy="83.89" r="4.25" fill="none" stroke="#0a0a0a" stroke-width="2.3"/>
<circle cx="782.05" cy="61.88" r="4.25" fill="none" stroke="#0a0a0a" stroke-width="2.3"/>
<circle cx="789.76" cy="61.88" r="4.25" fill="none" stroke="#0a0a0a" stroke-width="2.3"/>
<circle cx="797.47" cy="116.9" r="4.25" fill="none" stroke="#0a0a0a" stroke-width="2.3"/>
<circle cx="805.18" cy="160.92" r="4.25" fill="none" stroke="#0a0a0a" stroke-width="2.3"/>
<circle cx="812.89" cy="116.9" r="4.25" fill="none" stroke="#0a0a0a" stroke-width="2.3"/>
<circle cx="820.6" cy="83.89" r="4.25" fill="none" stroke="#0a0a0a" stroke-width="2.3"/>
<circle cx="828.31" cy="94.9" r="4.25" fill="none" stroke="#0a0a0a" stroke-width="2.3"/>
<circle cx="836.02" cy="94.9" r="4.25" fill="none" stroke="#0a0a0a" stroke-width="2.3"/>
<circle cx="843.73" cy="116.9" r="4.25" fill="none" stroke="#0a0a0a" stroke-width="2.3"/>
<circle cx="851.44" cy="94.9" r="4.25" fill="none" stroke="#0a0a0a" stroke-width="2.3"/>
<circle cx="905.41" cy="105.9" r="4.25" fill="none" stroke="#0a0a0a" stroke-width="2.3"/>
<circle cx="920.83" cy="94.9" r="4.25" fill="none" stroke="#0a0a0a" stroke-width="2.3"/>
<circle cx="959.38" cy="94.9" r="4.25" fill="none" stroke="#0a0a0a" stroke-width="2.3"/>
<circle cx="974.8" cy="83.89" r="4.25" fill="none" stroke="#0a0a0a" stroke-width="2.3"/>
<circle cx="1013.35" cy="61.88" r="4.25" fill="none" stroke="#0a0a0a" stroke-width="2.3"/>
<circle cx="1044.19" cy="72.89" r="4.25" fill="none" stroke="#0a0a0a" stroke-width="2.3"/>
<circle cx="1075.03" cy="72.89" r="4.25" fill="none" stroke="#0a0a0a" stroke-width="2.3"/>
<circle cx="1098.16" cy="72.89" r="4.25" fill="none" stroke="#0a0a0a" stroke-width="2.3"/>
<circle cx="1129" cy="50.88" r="4.25" fill="none" stroke="#0a0a0a" stroke-width="2.3"/>
<circle cx="1152.13" cy="50.88" r="4.25" fill="none" stroke="#0a0a0a" stroke-width="2.3"/>
<circle cx="1175.26" cy="50.88" r="4.25" fill="none" stroke="#0a0a0a" stroke-width="2.3"/>
<circle cx="1198.39" cy="50.88" r="4.25" fill="none" stroke="#0a0a0a" stroke-width="2.3"/>
</g>
<g id="panelC">
<path d="M66.25 457.2V810.6H603.7" fill="none" stroke="#b9b9b9" stroke-width="2.8"/>
<path d="M60.25 810.6H66.25M60.25 774.1H66.25M60.25 739.15H66.25M60.25 704.2H66.25M60.25 669.25H66.25M60.25 634.3H66.25M60.25 599.35H66.25M60.25 564.4H66.25M60.25 529.45H66.25M60.25 494.5H66.25M60.25 458.4H66.25M66.25 810.6V815.2M142.86 810.6V815.2M219.46 810.6V815.2M296.07 810.6V815.2M372.68 810.6V815.2M449.29 810.6V815.2M525.89 810.6V815.2M602.5 810.6V815.2" fill="none" stroke="#b9b9b9" stroke-width="2.2"/>
<g font-family='"Liberation Serif", serif' font-size="18.7" fill="#111">
<text transform="translate(52.3 816.77) scale(0.92 1)" text-anchor="end">0</text>
<text transform="translate(52.3 780.27) scale(0.92 1)" text-anchor="end">1</text>
<text transform="translate(52.3 745.32) scale(0.92 1)" text-anchor="end">2</text>
<text transform="translate(52.3 710.37) scale(0.92 1)" text-anchor="end">3</text>
<text transform="translate(52.3 675.42) scale(0.92 1)" text-anchor="end">4</text>
<text transform="translate(52.3 640.47) scale(0.92 1)" text-anchor="end">5</text>
<text transform="translate(52.3 605.52) scale(0.92 1)" text-anchor="end">6</text>
<text transform="translate(52.3 570.57) scale(0.92 1)" text-anchor="end">7</text>
<text transform="translate(52.3 535.62) scale(0.92 1)" text-anchor="end">8</text>
<text transform="translate(52.3 500.67) scale(0.92 1)" text-anchor="end">9</text>
<text transform="translate(52.3 464.57) scale(0.92 1)" text-anchor="end">10</text>
<text transform="translate(64.55 836.87) scale(0.92 1)" text-anchor="middle">0</text>
<text transform="translate(141.16 836.87) scale(0.92 1)" text-anchor="middle">5</text>
<text transform="translate(217.76 836.87) scale(0.92 1)" text-anchor="middle">10</text>
<text transform="translate(294.37 836.87) scale(0.92 1)" text-anchor="middle">15</text>
<text transform="translate(370.98 836.87) scale(0.92 1)" text-anchor="middle">20</text>
<text transform="translate(447.59 836.87) scale(0.92 1)" text-anchor="middle">25</text>
<text transform="translate(524.19 836.87) scale(0.92 1)" text-anchor="middle">30</text>
<text transform="translate(600.8 836.87) scale(0.92 1)" text-anchor="middle">35</text>
</g>
<text x="8.3" y="455" font-family='"Liberation Sans", sans-serif' font-weight="bold" font-size="23.4" fill="#111" stroke="#111" stroke-width="0.5">C</text>
<text x="81.25" y="474.4" font-family='"Liberation Serif", serif' font-weight="bold" font-size="24.2" fill="#111" stroke="#111" stroke-width="0.3">KETRI3580</text>
<text transform="translate(26.6 771.2) rotate(-90) scale(1 0.93)" font-family='"Liberation Serif", serif' font-weight="bold" font-size="23.7" fill="#111" stroke="#111" stroke-width="0.3">log<tspan font-size="15.17" dy="7.58">10</tspan><tspan dy="-7.58"> Trypanosomes/ml</tspan></text>
<path d="M66.25 809.05L81.57 620.32L96.89 546.92L112.21 546.92L127.54 536.44L142.86 494.5L158.18 494.5L173.5 494.5L188.82 494.5L204.14 494.5L219.46 494.5L234.79 504.99L250.11 557.41L265.43 504.99L280.75 550.42L296.07 515.47L326.71 494.5" fill="none" stroke="#0a0a0a" stroke-width="4.1" stroke-linecap="round" stroke-linejoin="round" stroke-dasharray="0.01 7.7"/>
<path d="M67.45 802.75L73.05 808.35L67.45 813.95L61.85 808.35Z" fill="#0a0a0a"/>
<path d="M82.77 614.02L88.37 619.62L82.77 625.22L77.17 619.62Z" fill="#0a0a0a"/>
<path d="M98.09 540.62L103.69 546.22L98.09 551.82L92.49 546.22Z" fill="#0a0a0a"/>
<path d="M113.41 540.62L119.01 546.22L113.41 551.82L107.81 546.22Z" fill="#0a0a0a"/>
<path d="M128.74 530.14L134.34 535.74L128.74 541.34L123.14 535.74Z" fill="#0a0a0a"/>
<path d="M144.06 488.2L149.66 493.8L144.06 499.4L138.46 493.8Z" fill="#0a0a0a"/>
<path d="M159.38 488.2L164.98 493.8L159.38 499.4L153.78 493.8Z" fill="#0a0a0a"/>
<path d="M174.7 488.2L180.3 493.8L174.7 499.4L169.1 493.8Z" fill="#0a0a0a"/>
<path d="M190.02 488.2L195.62 493.8L190.02 499.4L184.42 493.8Z" fill="#0a0a0a"/>
<path d="M205.34 488.2L210.94 493.8L205.34 499.4L199.74 493.8Z" fill="#0a0a0a"/>
<path d="M220.66 488.2L226.26 493.8L220.66 499.4L215.06 493.8Z" fill="#0a0a0a"/>
<path d="M235.99 498.69L241.59 504.29L235.99 509.89L230.39 504.29Z" fill="#0a0a0a"/>
<path d="M251.31 551.11L256.91 556.71L251.31 562.31L245.71 556.71Z" fill="#0a0a0a"/>
<path d="M266.63 498.69L272.23 504.29L266.63 509.89L261.03 504.29Z" fill="#0a0a0a"/>
<path d="M281.95 544.12L287.55 549.72L281.95 555.32L276.35 549.72Z" fill="#0a0a0a"/>
<path d="M297.27 509.17L302.87 514.77L297.27 520.37L291.67 514.77Z" fill="#0a0a0a"/>
<path d="M327.91 488.2L333.51 493.8L327.91 499.4L322.31 493.8Z" fill="#0a0a0a"/>
<path d="M66.25 809.05L81.57 620.32L96.89 546.92L112.21 536.44L127.54 525.95L142.86 494.5L158.18 494.5L173.5 546.92L188.82 515.47L204.14 494.5L219.46 494.5L234.79 494.5L250.11 494.5L265.43 494.5L280.75 494.5L296.07 525.95L326.71 494.5" fill="none" stroke="#0a0a0a" stroke-width="3.9" stroke-linecap="round" stroke-linejoin="round" stroke-dasharray="7.4 8.9"/>
<path d="M67.45 804.46L71.15 812.05L63.75 812.05Z" fill="none" stroke="#0a0a0a" stroke-width="2.2" stroke-linejoin="miter"/>
<path d="M82.77 615.73L86.47 623.32L79.07 623.32Z" fill="none" stroke="#0a0a0a" stroke-width="2.2" stroke-linejoin="miter"/>
<path d="M98.09 542.34L101.79 549.92L94.39 549.92Z" fill="none" stroke="#0a0a0a" stroke-width="2.2" stroke-linejoin="miter"/>
<path d="M113.41 531.86L117.11 539.44L109.71 539.44Z" fill="none" stroke="#0a0a0a" stroke-width="2.2" stroke-linejoin="miter"/>
<path d="M128.74 521.37L132.44 528.95L125.04 528.95Z" fill="none" stroke="#0a0a0a" stroke-width="2.2" stroke-linejoin="miter"/>
<path d="M144.06 489.92L147.76 497.5L140.36 497.5Z" fill="none" stroke="#0a0a0a" stroke-width="2.2" stroke-linejoin="miter"/>
<path d="M159.38 489.92L163.08 497.5L155.68 497.5Z" fill="none" stroke="#0a0a0a" stroke-width="2.2" stroke-linejoin="miter"/>
<path d="M174.7 542.34L178.4 549.92L171 549.92Z" fill="none" stroke="#0a0a0a" stroke-width="2.2" stroke-linejoin="miter"/>
<path d="M190.02 510.88L193.72 518.47L186.32 518.47Z" fill="none" stroke="#0a0a0a" stroke-width="2.2" stroke-linejoin="miter"/>
<path d="M205.34 489.92L209.04 497.5L201.64 497.5Z" fill="none" stroke="#0a0a0a" stroke-width="2.2" stroke-linejoin="miter"/>
<path d="M220.66 489.92L224.36 497.5L216.96 497.5Z" fill="none" stroke="#0a0a0a" stroke-width="2.2" stroke-linejoin="miter"/>
<path d="M235.99 489.92L239.69 497.5L232.29 497.5Z" fill="none" stroke="#0a0a0a" stroke-width="2.2" stroke-linejoin="miter"/>
<path d="M251.31 489.92L255.01 497.5L247.61 497.5Z" fill="none" stroke="#0a0a0a" stroke-width="2.2" stroke-linejoin="miter"/>
<path d="M266.63 489.92L270.33 497.5L262.93 497.5Z" fill="none" stroke="#0a0a0a" stroke-width="2.2" stroke-linejoin="miter"/>
<path d="M281.95 489.92L285.65 497.5L278.25 497.5Z" fill="none" stroke="#0a0a0a" stroke-width="2.2" stroke-linejoin="miter"/>
<path d="M297.27 521.37L300.97 528.95L293.57 528.95Z" fill="none" stroke="#0a0a0a" stroke-width="2.2" stroke-linejoin="miter"/>
<path d="M327.91 489.92L331.61 497.5L324.21 497.5Z" fill="none" stroke="#0a0a0a" stroke-width="2.2" stroke-linejoin="miter"/>
<path d="M66.25 809.05L81.57 620.32L96.89 546.92L112.21 546.92L127.54 525.95L142.86 494.5L158.18 494.5L173.5 494.5L188.82 494.5L204.14 525.95L219.46 494.5L234.79 504.99" fill="none" stroke="#0a0a0a" stroke-width="4.4" stroke-linecap="round" stroke-linejoin="round" stroke-dasharray="26.2 16.9 0.01 16.9"/>
<rect x="59.65" y="802.05" width="11.2" height="11.2" rx="1" fill="#0a0a0a"/>
<rect x="74.97" y="613.32" width="11.2" height="11.2" rx="1" fill="#0a0a0a"/>
<rect x="90.29" y="539.92" width="11.2" height="11.2" rx="1" fill="#0a0a0a"/>
<rect x="105.61" y="539.92" width="11.2" height="11.2" rx="1" fill="#0a0a0a"/>
<rect x="120.94" y="518.95" width="11.2" height="11.2" rx="1" fill="#0a0a0a"/>
<rect x="136.26" y="487.5" width="11.2" height="11.2" rx="1" fill="#0a0a0a"/>
<rect x="151.58" y="487.5" width="11.2" height="11.2" rx="1" fill="#0a0a0a"/>
<rect x="166.9" y="487.5" width="11.2" height="11.2" rx="1" fill="#0a0a0a"/>
<rect x="182.22" y="487.5" width="11.2" height="11.2" rx="1" fill="#0a0a0a"/>
<rect x="197.54" y="518.95" width="11.2" height="11.2" rx="1" fill="#0a0a0a"/>
<rect x="212.86" y="487.5" width="11.2" height="11.2" rx="1" fill="#0a0a0a"/>
<rect x="228.19" y="497.99" width="11.2" height="11.2" rx="1" fill="#0a0a0a"/>
<path d="M66.25 809.05L81.57 609.84L96.89 546.92L112.21 536.44L127.54 525.95L142.86 494.5L158.18 494.5L173.5 494.5L188.82 494.5L204.14 546.92L219.46 525.95L234.79 504.99L250.11 494.5L265.43 494.5L280.75 494.5L296.07 525.95L326.71 494.5L403.32 504.99L433.96 494.5" fill="none" stroke="#0a0a0a" stroke-width="4.2" stroke-linecap="round" stroke-linejoin="round" stroke-dasharray="10.3 16.1 0.01 16.1"/>
<rect x="61.3" y="803.7" width="7.9" height="7.9" fill="none" stroke="#0a0a0a" stroke-width="2.4"/>
<rect x="76.62" y="604.49" width="7.9" height="7.9" fill="none" stroke="#0a0a0a" stroke-width="2.4"/>
<rect x="91.94" y="541.57" width="7.9" height="7.9" fill="none" stroke="#0a0a0a" stroke-width="2.4"/>
<rect x="107.26" y="531.09" width="7.9" height="7.9" fill="none" stroke="#0a0a0a" stroke-width="2.4"/>
<rect x="122.59" y="520.6" width="7.9" height="7.9" fill="none" stroke="#0a0a0a" stroke-width="2.4"/>
<rect x="137.91" y="489.15" width="7.9" height="7.9" fill="none" stroke="#0a0a0a" stroke-width="2.4"/>
<rect x="153.23" y="489.15" width="7.9" height="7.9" fill="none" stroke="#0a0a0a" stroke-width="2.4"/>
<rect x="168.55" y="489.15" width="7.9" height="7.9" fill="none" stroke="#0a0a0a" stroke-width="2.4"/>
<rect x="183.87" y="489.15" width="7.9" height="7.9" fill="none" stroke="#0a0a0a" stroke-width="2.4"/>
<rect x="199.19" y="541.57" width="7.9" height="7.9" fill="none" stroke="#0a0a0a" stroke-width="2.4"/>
<rect x="214.51" y="520.6" width="7.9" height="7.9" fill="none" stroke="#0a0a0a" stroke-width="2.4"/>
<rect x="229.84" y="499.64" width="7.9" height="7.9" fill="none" stroke="#0a0a0a" stroke-width="2.4"/>
<rect x="245.16" y="489.15" width="7.9" height="7.9" fill="none" stroke="#0a0a0a" stroke-width="2.4"/>
<rect x="260.48" y="489.15" width="7.9" height="7.9" fill="none" stroke="#0a0a0a" stroke-width="2.4"/>
<rect x="275.8" y="489.15" width="7.9" height="7.9" fill="none" stroke="#0a0a0a" stroke-width="2.4"/>
<rect x="291.12" y="520.6" width="7.9" height="7.9" fill="none" stroke="#0a0a0a" stroke-width="2.4"/>
<rect x="321.76" y="489.15" width="7.9" height="7.9" fill="none" stroke="#0a0a0a" stroke-width="2.4"/>
<rect x="396.72" y="497.99" width="11.2" height="11.2" rx="1" fill="#0a0a0a"/><rect x="400.12" y="501.39" width="4.4" height="4.4" fill="none" stroke="#555" stroke-width="0.8"/>
<rect x="427.36" y="487.5" width="11.2" height="11.2" rx="1" fill="#0a0a0a"/><rect x="430.76" y="490.9" width="4.4" height="4.4" fill="none" stroke="#555" stroke-width="0.8"/>
<path d="M66.25 809.05L81.57 620.32L96.89 546.92L112.21 546.92L127.54 525.95L142.86 494.5L158.18 494.5L173.5 494.5L188.82 494.5L204.14 494.5L219.46 494.5L234.79 494.5L326.71 494.5L403.32 494.5L433.96 494.5" fill="none" stroke="#0a0a0a" stroke-width="4.0" stroke-linecap="round" stroke-linejoin="round" stroke-dasharray="9.5 6.6 0.01 6.9"/>
<path d="M67.45 802.55L73.25 813.28L61.65 813.28Z" fill="#0a0a0a"/>
<path d="M82.77 613.82L88.57 624.55L76.97 624.55Z" fill="#0a0a0a"/>
<path d="M98.09 540.42L103.89 551.15L92.29 551.15Z" fill="#0a0a0a"/>
<path d="M113.41 540.42L119.21 551.15L107.61 551.15Z" fill="#0a0a0a"/>
<path d="M128.74 519.45L134.54 530.18L122.94 530.18Z" fill="#0a0a0a"/>
<path d="M235.99 488L241.79 498.73L230.19 498.73Z" fill="#0a0a0a"/>
<path d="M404.52 488L410.32 498.73L398.72 498.73Z" fill="#0a0a0a"/>
<path d="M435.16 488L440.96 498.73L429.36 498.73Z" fill="#0a0a0a"/>
<path d="M66.25 809.05L81.57 620.32L96.89 557.41L112.21 536.44L127.54 525.95L142.86 494.5L158.18 494.5L173.5 494.5L188.82 494.5L204.14 494.5L219.46 494.5C219.46 494.5 242.45 534.69 250.11 536.44C257.77 538.19 260.32 510.23 265.43 504.99C270.54 499.74 275.64 501.49 280.75 504.99C285.86 508.48 296.07 525.95 296.07 525.95" fill="none" stroke="#0a0a0a" stroke-width="5.4" stroke-linecap="round" stroke-linejoin="round"/>
<circle cx="65.25" cy="807.65" r="4.25" fill="none" stroke="#0a0a0a" stroke-width="2.3"/>
<circle cx="80.57" cy="618.92" r="4.25" fill="none" stroke="#0a0a0a" stroke-width="2.3"/>
<circle cx="95.89" cy="556.01" r="4.25" fill="none" stroke="#0a0a0a" stroke-width="2.3"/>
<circle cx="111.21" cy="535.04" r="4.25" fill="none" stroke="#0a0a0a" stroke-width="2.3"/>
<circle cx="126.54" cy="524.55" r="4.25" fill="none" stroke="#0a0a0a" stroke-width="2.3"/>
<circle cx="141.86" cy="493.1" r="4.25" fill="none" stroke="#0a0a0a" stroke-width="2.3"/>
<circle cx="157.18" cy="493.1" r="4.25" fill="none" stroke="#0a0a0a" stroke-width="2.3"/>
<circle cx="172.5" cy="493.1" r="4.25" fill="none" stroke="#0a0a0a" stroke-width="2.3"/>
<circle cx="187.82" cy="493.1" r="4.25" fill="none" stroke="#0a0a0a" stroke-width="2.3"/>
<circle cx="203.14" cy="493.1" r="4.25" fill="none" stroke="#0a0a0a" stroke-width="2.3"/>
<circle cx="218.46" cy="493.1" r="4.25" fill="none" stroke="#0a0a0a" stroke-width="2.3"/>
<circle cx="249.11" cy="535.04" r="4.25" fill="none" stroke="#0a0a0a" stroke-width="2.3"/>
<circle cx="264.43" cy="503.59" r="4.25" fill="none" stroke="#0a0a0a" stroke-width="2.3"/>
<circle cx="279.75" cy="503.59" r="4.25" fill="none" stroke="#0a0a0a" stroke-width="2.3"/>
<circle cx="233.79" cy="524.55" r="4.25" fill="none" stroke="#0a0a0a" stroke-width="2.3"/>
<circle cx="295.07" cy="493.1" r="4.25" fill="none" stroke="#0a0a0a" stroke-width="2.3"/>
</g>
<g id="panelD">
<path d="M746.9 450.7V813.5H1297.3" fill="none" stroke="#b9b9b9" stroke-width="2.8"/>
<path d="M740.9 813.5H746.9M740.9 779.14H746.9M740.9 742.78H746.9M740.9 706.42H746.9M740.9 670.06H746.9M740.9 633.7H746.9M740.9 597.34H746.9M740.9 560.98H746.9M740.9 524.62H746.9M740.9 488.26H746.9M740.9 451.9H746.9M746.9 813.5V818.1M825.36 813.5V818.1M903.81 813.5V818.1M982.27 813.5V818.1M1060.73 813.5V818.1M1139.19 813.5V818.1M1217.64 813.5V818.1M1296.1 813.5V818.1" fill="none" stroke="#b9b9b9" stroke-width="2.2"/>
<g font-family='"Liberation Serif", serif' font-size="18.7" fill="#111">
<text transform="translate(731.6 819.67) scale(0.92 1)" text-anchor="end">0</text>
<text transform="translate(731.6 785.31) scale(0.92 1)" text-anchor="end">1</text>
<text transform="translate(731.6 748.95) scale(0.92 1)" text-anchor="end">2</text>
<text transform="translate(731.6 712.59) scale(0.92 1)" text-anchor="end">3</text>
<text transform="translate(731.6 676.23) scale(0.92 1)" text-anchor="end">4</text>
<text transform="translate(731.6 639.87) scale(0.92 1)" text-anchor="end">5</text>
<text transform="translate(731.6 603.51) scale(0.92 1)" text-anchor="end">6</text>
<text transform="translate(731.6 567.15) scale(0.92 1)" text-anchor="end">7</text>
<text transform="translate(731.6 530.79) scale(0.92 1)" text-anchor="end">8</text>
<text transform="translate(731.6 494.43) scale(0.92 1)" text-anchor="end">9</text>
<text transform="translate(731.6 458.07) scale(0.92 1)" text-anchor="end">10</text>
<text transform="translate(745.2 840.87) scale(0.92 1)" text-anchor="middle">0</text>
<text transform="translate(823.66 840.87) scale(0.92 1)" text-anchor="middle">5</text>
<text transform="translate(902.11 840.87) scale(0.92 1)" text-anchor="middle">10</text>
<text transform="translate(980.57 840.87) scale(0.92 1)" text-anchor="middle">15</text>
<text transform="translate(1059.03 840.87) scale(0.92 1)" text-anchor="middle">20</text>
<text transform="translate(1137.49 840.87) scale(0.92 1)" text-anchor="middle">25</text>
<text transform="translate(1215.94 840.87) scale(0.92 1)" text-anchor="middle">30</text>
<text transform="translate(1294.4 840.87) scale(0.92 1)" text-anchor="middle">35</text>
</g>
<text x="684.3" y="455.2" font-family='"Liberation Sans", sans-serif' font-weight="bold" font-size="23.4" fill="#111" stroke="#111" stroke-width="0.5">D</text>
<text x="756.25" y="465" font-family='"Liberation Serif", serif' font-weight="bold" font-size="19.9" fill="#111" stroke="#111" stroke-width="0.3">KETRI2446</text>
<text transform="translate(704.5 749.4) rotate(-90) scale(1 0.93)" font-family='"Liberation Serif", serif' font-weight="bold" font-size="22.5" fill="#111" stroke="#111" stroke-width="0.3">log<tspan font-size="14.4" dy="7.2">10</tspan><tspan dy="-7.2"> Trypanosomes/ml</tspan></text>
<path d="M746.9 816.6L762.59 620.26L778.28 554.81L793.97 522.08L809.67 489.36L825.36 489.36L841.05 489.36L856.74 489.36L872.43 489.36L888.12 489.36L903.81 489.36L919.51 489.36L935.2 489.36L950.89 489.36L966.58 522.08L997.96 489.36" fill="none" stroke="#0a0a0a" stroke-width="4.1" stroke-linecap="round" stroke-linejoin="round" stroke-dasharray="0.01 7.7"/>
<path d="M747.4 809.1L753 814.7L747.4 820.3L741.8 814.7Z" fill="#0a0a0a"/>
<path d="M763.09 612.76L768.69 618.36L763.09 623.96L757.49 618.36Z" fill="#0a0a0a"/>
<path d="M778.78 547.31L784.38 552.91L778.78 558.51L773.18 552.91Z" fill="#0a0a0a"/>
<path d="M794.47 514.58L800.07 520.18L794.47 525.78L788.87 520.18Z" fill="#0a0a0a"/>
<path d="M810.17 481.86L815.77 487.46L810.17 493.06L804.57 487.46Z" fill="#0a0a0a"/>
<path d="M825.86 481.86L831.46 487.46L825.86 493.06L820.26 487.46Z" fill="#0a0a0a"/>
<path d="M841.55 481.86L847.15 487.46L841.55 493.06L835.95 487.46Z" fill="#0a0a0a"/>
<path d="M857.24 481.86L862.84 487.46L857.24 493.06L851.64 487.46Z" fill="#0a0a0a"/>
<path d="M872.93 481.86L878.53 487.46L872.93 493.06L867.33 487.46Z" fill="#0a0a0a"/>
<path d="M888.62 481.86L894.22 487.46L888.62 493.06L883.02 487.46Z" fill="#0a0a0a"/>
<path d="M904.31 481.86L909.91 487.46L904.31 493.06L898.71 487.46Z" fill="#0a0a0a"/>
<path d="M920.01 481.86L925.61 487.46L920.01 493.06L914.41 487.46Z" fill="#0a0a0a"/>
<path d="M935.7 481.86L941.3 487.46L935.7 493.06L930.1 487.46Z" fill="#0a0a0a"/>
<path d="M951.39 481.86L956.99 487.46L951.39 493.06L945.79 487.46Z" fill="#0a0a0a"/>
<path d="M967.08 514.58L972.68 520.18L967.08 525.78L961.48 520.18Z" fill="#0a0a0a"/>
<path d="M998.46 481.86L1004.06 487.46L998.46 493.06L992.86 487.46Z" fill="#0a0a0a"/>
<path d="M746.9 816.6L762.59 620.26L778.28 543.9L793.97 522.08L809.67 489.36L825.36 489.36L841.05 489.36L856.74 489.36L872.43 489.36L888.12 489.36L903.81 489.36L919.51 489.36L935.2 489.36L950.89 489.36L966.58 489.36" fill="none" stroke="#0a0a0a" stroke-width="3.9" stroke-linecap="round" stroke-linejoin="round" stroke-dasharray="7.4 8.9"/>
<path d="M747.4 810.82L751.1 818.4L743.7 818.4Z" fill="none" stroke="#0a0a0a" stroke-width="2.2" stroke-linejoin="miter"/>
<path d="M763.09 614.47L766.79 622.06L759.39 622.06Z" fill="none" stroke="#0a0a0a" stroke-width="2.2" stroke-linejoin="miter"/>
<path d="M778.78 538.12L782.48 545.7L775.08 545.7Z" fill="none" stroke="#0a0a0a" stroke-width="2.2" stroke-linejoin="miter"/>
<path d="M794.47 516.3L798.17 523.88L790.77 523.88Z" fill="none" stroke="#0a0a0a" stroke-width="2.2" stroke-linejoin="miter"/>
<path d="M810.17 483.58L813.87 491.16L806.47 491.16Z" fill="none" stroke="#0a0a0a" stroke-width="2.2" stroke-linejoin="miter"/>
<path d="M825.86 483.58L829.56 491.16L822.16 491.16Z" fill="none" stroke="#0a0a0a" stroke-width="2.2" stroke-linejoin="miter"/>
<path d="M841.55 483.58L845.25 491.16L837.85 491.16Z" fill="none" stroke="#0a0a0a" stroke-width="2.2" stroke-linejoin="miter"/>
<path d="M857.24 483.58L860.94 491.16L853.54 491.16Z" fill="none" stroke="#0a0a0a" stroke-width="2.2" stroke-linejoin="miter"/>
<path d="M872.93 483.58L876.63 491.16L869.23 491.16Z" fill="none" stroke="#0a0a0a" stroke-width="2.2" stroke-linejoin="miter"/>
<path d="M888.62 483.58L892.32 491.16L884.92 491.16Z" fill="none" stroke="#0a0a0a" stroke-width="2.2" stroke-linejoin="miter"/>
<path d="M904.31 483.58L908.01 491.16L900.61 491.16Z" fill="none" stroke="#0a0a0a" stroke-width="2.2" stroke-linejoin="miter"/>
<path d="M920.01 483.58L923.71 491.16L916.31 491.16Z" fill="none" stroke="#0a0a0a" stroke-width="2.2" stroke-linejoin="miter"/>
<path d="M935.7 483.58L939.4 491.16L932 491.16Z" fill="none" stroke="#0a0a0a" stroke-width="2.2" stroke-linejoin="miter"/>
<path d="M951.39 483.58L955.09 491.16L947.69 491.16Z" fill="none" stroke="#0a0a0a" stroke-width="2.2" stroke-linejoin="miter"/>
<path d="M967.08 483.58L970.78 491.16L963.38 491.16Z" fill="none" stroke="#0a0a0a" stroke-width="2.2" stroke-linejoin="miter"/>
<path d="M746.9 816.6L762.59 609.35L778.28 543.9L793.97 522.08L809.67 489.36L825.36 489.36L841.05 489.36L856.74 489.36L872.43 489.36L888.12 489.36L903.81 489.36L919.51 489.36L935.2 489.36L950.89 489.36L966.58 489.36L997.96 489.36" fill="none" stroke="#0a0a0a" stroke-width="4.4" stroke-linecap="round" stroke-linejoin="round" stroke-dasharray="26.2 16.9 0.01 16.9"/>
<rect x="739.6" y="807.2" width="11.2" height="11.2" rx="1" fill="#0a0a0a"/>
<rect x="755.29" y="599.95" width="11.2" height="11.2" rx="1" fill="#0a0a0a"/>
<rect x="770.98" y="534.5" width="11.2" height="11.2" rx="1" fill="#0a0a0a"/>
<rect x="786.67" y="512.68" width="11.2" height="11.2" rx="1" fill="#0a0a0a"/>
<rect x="802.37" y="479.96" width="11.2" height="11.2" rx="1" fill="#0a0a0a"/>
<rect x="818.06" y="479.96" width="11.2" height="11.2" rx="1" fill="#0a0a0a"/>
<rect x="833.75" y="479.96" width="11.2" height="11.2" rx="1" fill="#0a0a0a"/>
<rect x="849.44" y="479.96" width="11.2" height="11.2" rx="1" fill="#0a0a0a"/>
<rect x="865.13" y="479.96" width="11.2" height="11.2" rx="1" fill="#0a0a0a"/>
<rect x="880.82" y="479.96" width="11.2" height="11.2" rx="1" fill="#0a0a0a"/>
<rect x="896.51" y="479.96" width="11.2" height="11.2" rx="1" fill="#0a0a0a"/>
<rect x="912.21" y="479.96" width="11.2" height="11.2" rx="1" fill="#0a0a0a"/>
<rect x="927.9" y="479.96" width="11.2" height="11.2" rx="1" fill="#0a0a0a"/>
<rect x="943.59" y="479.96" width="11.2" height="11.2" rx="1" fill="#0a0a0a"/>
<rect x="959.28" y="479.96" width="11.2" height="11.2" rx="1" fill="#0a0a0a"/>
<rect x="990.66" y="479.96" width="11.2" height="11.2" rx="1" fill="#0a0a0a"/>
<path d="M746.9 816.6L762.59 609.35L778.28 554.81L793.97 543.9L809.67 489.36L825.36 489.36L841.05 489.36L856.74 489.36L872.43 489.36L888.12 489.36L903.81 489.36L919.51 489.36" fill="none" stroke="#0a0a0a" stroke-width="4.2" stroke-linecap="round" stroke-linejoin="round" stroke-dasharray="10.3 16.1 0.01 16.1"/>
<path d="M919.51 489.36L935.2 532.99L950.89 522.08L966.58 489.36" fill="none" stroke="#0a0a0a" stroke-width="4.2" stroke-linecap="round" stroke-linejoin="round" stroke-dasharray="10.3 16.1 0.01 16.1" stroke-dashoffset="4"/>
<rect x="741.25" y="808.85" width="7.9" height="7.9" fill="none" stroke="#0a0a0a" stroke-width="2.4"/>
<rect x="756.94" y="601.6" width="7.9" height="7.9" fill="none" stroke="#0a0a0a" stroke-width="2.4"/>
<rect x="772.63" y="547.06" width="7.9" height="7.9" fill="none" stroke="#0a0a0a" stroke-width="2.4"/>
<rect x="788.32" y="536.15" width="7.9" height="7.9" fill="none" stroke="#0a0a0a" stroke-width="2.4"/>
<rect x="804.02" y="481.61" width="7.9" height="7.9" fill="none" stroke="#0a0a0a" stroke-width="2.4"/>
<rect x="819.71" y="481.61" width="7.9" height="7.9" fill="none" stroke="#0a0a0a" stroke-width="2.4"/>
<rect x="835.4" y="481.61" width="7.9" height="7.9" fill="none" stroke="#0a0a0a" stroke-width="2.4"/>
<rect x="851.09" y="481.61" width="7.9" height="7.9" fill="none" stroke="#0a0a0a" stroke-width="2.4"/>
<rect x="866.78" y="481.61" width="7.9" height="7.9" fill="none" stroke="#0a0a0a" stroke-width="2.4"/>
<rect x="882.47" y="481.61" width="7.9" height="7.9" fill="none" stroke="#0a0a0a" stroke-width="2.4"/>
<rect x="898.16" y="481.61" width="7.9" height="7.9" fill="none" stroke="#0a0a0a" stroke-width="2.4"/>
<rect x="913.86" y="481.61" width="7.9" height="7.9" fill="none" stroke="#0a0a0a" stroke-width="2.4"/>
<rect x="929.55" y="525.24" width="7.9" height="7.9" fill="none" stroke="#0a0a0a" stroke-width="2.4"/>
<rect x="945.24" y="514.33" width="7.9" height="7.9" fill="none" stroke="#0a0a0a" stroke-width="2.4"/>
<rect x="960.93" y="481.61" width="7.9" height="7.9" fill="none" stroke="#0a0a0a" stroke-width="2.4"/>
<path d="M746.9 816.6L762.59 620.26L778.28 543.9L793.97 522.08L809.67 489.36L825.36 489.36L841.05 489.36L856.74 489.36L872.43 489.36L888.12 489.36L903.81 489.36L919.51 489.36L935.2 489.36L950.89 489.36L966.58 489.36L997.96 489.36L1076.42 489.36" fill="none" stroke="#0a0a0a" stroke-width="4.4" stroke-linecap="round" stroke-linejoin="round" stroke-dasharray="10.5 18.3"/>
<path d="M747.4 808.9L753.2 819.63L741.6 819.63Z" fill="#0a0a0a"/>
<path d="M763.09 612.56L768.89 623.29L757.29 623.29Z" fill="#0a0a0a"/>
<path d="M778.78 536.2L784.58 546.93L772.98 546.93Z" fill="#0a0a0a"/>
<path d="M794.47 514.38L800.27 525.11L788.67 525.11Z" fill="#0a0a0a"/>
<path d="M810.17 481.66L815.97 492.39L804.37 492.39Z" fill="#0a0a0a"/>
<path d="M825.86 481.66L831.66 492.39L820.06 492.39Z" fill="#0a0a0a"/>
<path d="M841.55 481.66L847.35 492.39L835.75 492.39Z" fill="#0a0a0a"/>
<path d="M857.24 481.66L863.04 492.39L851.44 492.39Z" fill="#0a0a0a"/>
<path d="M872.93 481.66L878.73 492.39L867.13 492.39Z" fill="#0a0a0a"/>
<path d="M888.62 481.66L894.42 492.39L882.82 492.39Z" fill="#0a0a0a"/>
<path d="M904.31 481.66L910.11 492.39L898.51 492.39Z" fill="#0a0a0a"/>
<path d="M920.01 481.66L925.81 492.39L914.21 492.39Z" fill="#0a0a0a"/>
<path d="M935.7 481.66L941.5 492.39L929.9 492.39Z" fill="#0a0a0a"/>
<path d="M951.39 481.66L957.19 492.39L945.59 492.39Z" fill="#0a0a0a"/>
<path d="M967.08 481.66L972.88 492.39L961.28 492.39Z" fill="#0a0a0a"/>
<path d="M998.46 481.66L1004.26 492.39L992.66 492.39Z" fill="#0a0a0a"/>
<path d="M1076.92 481.66L1082.72 492.39L1071.12 492.39Z" fill="#0a0a0a"/>
<path d="M746.9 816.6L762.59 620.26L778.28 543.9L793.97 522.08L809.67 489.36L825.36 489.36L841.05 489.36L856.74 489.36L872.43 489.36L888.12 489.36L903.81 489.36L919.51 489.36L935.2 489.36L950.89 489.36L966.58 489.36L997.96 489.36L1076.42 489.36L1092.11 489.36" fill="none" stroke="#0a0a0a" stroke-width="5.4" stroke-linecap="round" stroke-linejoin="round"/>
<circle cx="745.2" cy="812.8" r="4.25" fill="none" stroke="#0a0a0a" stroke-width="2.3"/>
<circle cx="760.89" cy="616.46" r="4.25" fill="none" stroke="#0a0a0a" stroke-width="2.3"/>
<circle cx="776.58" cy="540.1" r="4.25" fill="none" stroke="#0a0a0a" stroke-width="2.3"/>
<circle cx="792.27" cy="518.28" r="4.25" fill="none" stroke="#0a0a0a" stroke-width="2.3"/>
<circle cx="807.97" cy="485.56" r="4.25" fill="none" stroke="#0a0a0a" stroke-width="2.3"/>
<circle cx="823.66" cy="485.56" r="4.25" fill="none" stroke="#0a0a0a" stroke-width="2.3"/>
<circle cx="839.35" cy="485.56" r="4.25" fill="none" stroke="#0a0a0a" stroke-width="2.3"/>
<circle cx="855.04" cy="485.56" r="4.25" fill="none" stroke="#0a0a0a" stroke-width="2.3"/>
<circle cx="870.73" cy="485.56" r="4.25" fill="none" stroke="#0a0a0a" stroke-width="2.3"/>
<circle cx="886.42" cy="485.56" r="4.25" fill="none" stroke="#0a0a0a" stroke-width="2.3"/>
<circle cx="902.11" cy="485.56" r="4.25" fill="none" stroke="#0a0a0a" stroke-width="2.3"/>
<circle cx="917.81" cy="485.56" r="4.25" fill="none" stroke="#0a0a0a" stroke-width="2.3"/>
<circle cx="933.5" cy="485.56" r="4.25" fill="none" stroke="#0a0a0a" stroke-width="2.3"/>
<circle cx="949.19" cy="485.56" r="4.25" fill="none" stroke="#0a0a0a" stroke-width="2.3"/>
<circle cx="964.88" cy="485.56" r="4.25" fill="none" stroke="#0a0a0a" stroke-width="2.3"/>
<circle cx="996.26" cy="485.56" r="4.25" fill="none" stroke="#0a0a0a" stroke-width="2.3"/>
<circle cx="1074.72" cy="485.56" r="4.25" fill="none" stroke="#0a0a0a" stroke-width="2.3"/>
<circle cx="1090.41" cy="485.56" r="4.25" fill="none" stroke="#0a0a0a" stroke-width="2.3"/>
</g>
<g id="panelE">
<path d="M67.25 893.6V1279H614.7" fill="none" stroke="#b9b9b9" stroke-width="2.8"/>
<path d="M61.25 1279H67.25M61.25 1240.58H67.25M61.25 1202.16H67.25M61.25 1163.74H67.25M61.25 1125.32H67.25M61.25 1086.9H67.25M61.25 1048.48H67.25M61.25 1010.06H67.25M61.25 971.64H67.25M61.25 933.22H67.25M61.25 894.8H67.25M67.25 1279V1283.6M176.5 1279V1283.6M285.75 1279V1283.6M395 1279V1283.6M504.25 1279V1283.6M613.5 1279V1283.6" fill="none" stroke="#b9b9b9" stroke-width="2.2"/>
<g font-family='"Liberation Serif", serif' font-size="18.7" fill="#111">
<text transform="translate(52 1285.17) scale(0.92 1)" text-anchor="end">0</text>
<text transform="translate(52 1246.75) scale(0.92 1)" text-anchor="end">1</text>
<text transform="translate(52 1208.33) scale(0.92 1)" text-anchor="end">2</text>
<text transform="translate(52 1169.91) scale(0.92 1)" text-anchor="end">3</text>
<text transform="translate(52 1131.49) scale(0.92 1)" text-anchor="end">4</text>
<text transform="translate(52 1093.07) scale(0.92 1)" text-anchor="end">5</text>
<text transform="translate(52 1054.65) scale(0.92 1)" text-anchor="end">6</text>
<text transform="translate(52 1016.23) scale(0.92 1)" text-anchor="end">7</text>
<text transform="translate(52 977.81) scale(0.92 1)" text-anchor="end">8</text>
<text transform="translate(52 939.39) scale(0.92 1)" text-anchor="end">9</text>
<text transform="translate(52 900.97) scale(0.92 1)" text-anchor="end">10</text>
<text transform="translate(65.55 1306.87) scale(0.92 1)" text-anchor="middle">0</text>
<text transform="translate(174.8 1306.87) scale(0.92 1)" text-anchor="middle">1</text>
<text transform="translate(284.05 1306.87) scale(0.92 1)" text-anchor="middle">2</text>
<text transform="translate(393.3 1306.87) scale(0.92 1)" text-anchor="middle">3</text>
<text transform="translate(502.55 1306.87) scale(0.92 1)" text-anchor="middle">4</text>
<text transform="translate(611.8 1306.87) scale(0.92 1)" text-anchor="middle">5</text>
</g>
<text x="9.6" y="880.2" font-family='"Liberation Sans", sans-serif' font-weight="bold" font-size="23.4" fill="#111" stroke="#111" stroke-width="0.5">E</text>
<text x="77.5" y="910.8" font-family='"Liberation Serif", serif' font-weight="bold" font-size="21.6" fill="#111" stroke="#111" stroke-width="0.3">KETRI4038</text>
<text transform="translate(20.1 1189.6) rotate(-90) scale(1 0.93)" font-family='"Liberation Serif", serif' font-weight="bold" font-size="22.3" fill="#111" stroke="#111" stroke-width="0.3">log<tspan font-size="14.27" dy="7.14">10</tspan><tspan dy="-7.14"> Trypanosomes/mi</tspan></text>
<text x="216" y="1340" font-family='"Liberation Serif", serif' font-weight="bold" font-size="23.7" fill="#111" stroke="#111" stroke-width="0.3">Days post-infection</text>
<path d="M68.75 1279L178 1013.9L287.25 990.85L396.5 967.8L505.75 933.22" fill="none" stroke="#0a0a0a" stroke-width="4.1" stroke-linecap="round" stroke-linejoin="round" stroke-dasharray="0.01 7.7"/>
<path d="M68.75 1279L178 1013.9L287.25 1002.38L396.5 967.8L505.75 933.22" fill="none" stroke="#0a0a0a" stroke-width="3.9" stroke-linecap="round" stroke-linejoin="round" stroke-dasharray="7.4 8.9"/>
<path d="M68.75 1279L178 1071.53L287.25 1002.38L396.5 967.8" fill="none" stroke="#0a0a0a" stroke-width="4.4" stroke-linecap="round" stroke-linejoin="round" stroke-dasharray="26.2 16.9 0.01 16.9" stroke-dashoffset="50"/>
<rect x="59.35" y="1269.4" width="11.2" height="11.2" rx="1" fill="#0a0a0a"/>
<rect x="168.6" y="1061.93" width="11.2" height="11.2" rx="1" fill="#0a0a0a"/><rect x="172" y="1065.33" width="4.4" height="4.4" fill="none" stroke="#555" stroke-width="0.8"/>
<rect x="277.85" y="992.78" width="11.2" height="11.2" rx="1" fill="#0a0a0a"/>
<rect x="387.1" y="958.2" width="11.2" height="11.2" rx="1" fill="#0a0a0a"/>
<path d="M68.75 1279L178 1013.9L287.25 990.85L396.5 967.8L505.75 933.22" fill="none" stroke="#0a0a0a" stroke-width="4.2" stroke-linecap="round" stroke-linejoin="round" stroke-dasharray="10.3 16.1 0.01 16.1"/>
<rect x="61" y="1271.05" width="7.9" height="7.9" fill="none" stroke="#0a0a0a" stroke-width="2.4"/>
<rect x="170.25" y="1005.95" width="7.9" height="7.9" fill="none" stroke="#0a0a0a" stroke-width="2.4"/>
<rect x="279.5" y="982.9" width="7.9" height="7.9" fill="none" stroke="#0a0a0a" stroke-width="2.4"/>
<rect x="498" y="925.27" width="7.9" height="7.9" fill="none" stroke="#0a0a0a" stroke-width="2.4"/>
<path d="M68.75 1279L178 1013.9L287.25 1002.38L396.5 967.8L505.75 933.22" fill="none" stroke="#0a0a0a" stroke-width="4.4" stroke-linecap="round" stroke-linejoin="round" stroke-dasharray="10.5 18.3"/>
<path d="M67.15 1271.2L72.95 1281.93L61.35 1281.93Z" fill="#0a0a0a"/>
<path d="M285.65 994.58L291.45 1005.31L279.85 1005.31Z" fill="#0a0a0a"/>
<path d="M394.9 960L400.7 970.73L389.1 970.73Z" fill="#0a0a0a"/>
<path d="M504.15 925.42L509.95 936.15L498.35 936.15Z" fill="#0a0a0a"/>
<path d="M68.75 1279L178 1013.9L287.25 1002.38L396.5 967.8L505.75 933.22" fill="none" stroke="#0a0a0a" stroke-width="5.4" stroke-linecap="round" stroke-linejoin="round"/>
</g>
<g id="panelF">
<path d="M743.75 893.2V1279H1306.2" fill="none" stroke="#b9b9b9" stroke-width="2.8"/>
<path d="M737.75 1279H743.75M737.75 1240.54H743.75M737.75 1202.08H743.75M737.75 1163.62H743.75M737.75 1125.16H743.75M737.75 1086.7H743.75M737.75 1048.24H743.75M737.75 1009.78H743.75M737.75 971.32H743.75M737.75 932.86H743.75M737.75 894.4H743.75M743.75 1279V1283.6M813.91 1279V1283.6M884.06 1279V1283.6M954.22 1279V1283.6M1024.38 1279V1283.6M1094.53 1279V1283.6M1164.69 1279V1283.6M1234.84 1279V1283.6M1305 1279V1283.6" fill="none" stroke="#b9b9b9" stroke-width="2.2"/>
<g font-family='"Liberation Serif", serif' font-size="18.7" fill="#111">
<text transform="translate(729.2 1285.17) scale(0.92 1)" text-anchor="end">0</text>
<text transform="translate(729.2 1246.71) scale(0.92 1)" text-anchor="end">1</text>
<text transform="translate(729.2 1208.25) scale(0.92 1)" text-anchor="end">2</text>
<text transform="translate(729.2 1169.79) scale(0.92 1)" text-anchor="end">3</text>
<text transform="translate(729.2 1131.33) scale(0.92 1)" text-anchor="end">4</text>
<text transform="translate(729.2 1092.87) scale(0.92 1)" text-anchor="end">5</text>
<text transform="translate(729.2 1054.41) scale(0.92 1)" text-anchor="end">6</text>
<text transform="translate(729.2 1015.95) scale(0.92 1)" text-anchor="end">7</text>
<text transform="translate(729.2 977.49) scale(0.92 1)" text-anchor="end">8</text>
<text transform="translate(729.2 939.03) scale(0.92 1)" text-anchor="end">9</text>
<text transform="translate(729.2 900.57) scale(0.92 1)" text-anchor="end">10</text>
<text transform="translate(742.05 1305.87) scale(0.92 1)" text-anchor="middle">0</text>
<text transform="translate(812.21 1305.87) scale(0.92 1)" text-anchor="middle">2</text>
<text transform="translate(882.36 1305.87) scale(0.92 1)" text-anchor="middle">4</text>
<text transform="translate(952.52 1305.87) scale(0.92 1)" text-anchor="middle">6</text>
<text transform="translate(1022.67 1305.87) scale(0.92 1)" text-anchor="middle">8</text>
<text transform="translate(1092.83 1305.87) scale(0.92 1)" text-anchor="middle">10</text>
<text transform="translate(1162.99 1305.87) scale(0.92 1)" text-anchor="middle">12</text>
<text transform="translate(1233.14 1305.87) scale(0.92 1)" text-anchor="middle">14</text>
<text transform="translate(1303.3 1305.87) scale(0.92 1)" text-anchor="middle">16</text>
</g>
<text x="685.4" y="880.2" font-family='"Liberation Sans", sans-serif' font-weight="bold" font-size="23.4" fill="#111" stroke="#111" stroke-width="0.5">F</text>
<text x="755" y="910.6" font-family='"Liberation Serif", serif' font-weight="bold" font-size="22" fill="#111" stroke="#111" stroke-width="0.3">KETRI2479</text>
<text transform="translate(704.5 1188) rotate(-90) scale(1 0.93)" font-family='"Liberation Serif", serif' font-weight="bold" font-size="22.3" fill="#111" stroke="#111" stroke-width="0.3">log<tspan font-size="14.27" dy="7.14">10</tspan><tspan dy="-7.14"> Trypanosomes/mi</tspan></text>
<text x="958.5" y="1339.5" font-family='"Liberation Serif", serif' font-weight="bold" font-size="23.7" fill="#111" stroke="#111" stroke-width="0.3">Days post-infection</text>
<path d="M743.75 1278L778.83 1070.32L813.91 1047.24L848.98 1001.09L884.06 966.47L919.14 931.86L954.22 931.86L989.3 931.86L1024.38 931.86L1059.45 931.86" fill="none" stroke="#0a0a0a" stroke-width="4.1" stroke-linecap="round" stroke-linejoin="round" stroke-dasharray="0.01 7.7"/>
<path d="M746.8 1272.1L752.4 1277.7L746.8 1283.3L741.2 1277.7Z" fill="#0a0a0a"/>
<path d="M781.63 1064.42L787.23 1070.02L781.63 1075.62L776.03 1070.02Z" fill="#0a0a0a"/>
<path d="M816.46 1041.34L822.06 1046.94L816.46 1052.54L810.86 1046.94Z" fill="#0a0a0a"/>
<path d="M851.28 995.19L856.88 1000.79L851.28 1006.39L845.68 1000.79Z" fill="#0a0a0a"/>
<path d="M886.11 960.57L891.71 966.17L886.11 971.77L880.51 966.17Z" fill="#0a0a0a"/>
<path d="M920.94 925.96L926.54 931.56L920.94 937.16L915.34 931.56Z" fill="#0a0a0a"/>
<path d="M955.77 925.96L961.37 931.56L955.77 937.16L950.17 931.56Z" fill="#0a0a0a"/>
<path d="M990.6 925.96L996.2 931.56L990.6 937.16L985 931.56Z" fill="#0a0a0a"/>
<path d="M1025.42 925.96L1031.02 931.56L1025.42 937.16L1019.82 931.56Z" fill="#0a0a0a"/>
<path d="M1060.25 925.96L1065.85 931.56L1060.25 937.16L1054.65 931.56Z" fill="#0a0a0a"/>
<path d="M743.75 1278L778.83 1070.32L813.91 1058.78L848.98 1001.09L884.06 966.47L919.14 931.86L954.22 931.86L989.3 931.86L1024.38 931.86" fill="none" stroke="#0a0a0a" stroke-width="3.9" stroke-linecap="round" stroke-linejoin="round" stroke-dasharray="7.4 8.9"/>
<path d="M746.8 1273.82L750.5 1281.4L743.1 1281.4Z" fill="none" stroke="#0a0a0a" stroke-width="2.2" stroke-linejoin="miter"/>
<path d="M781.63 1066.13L785.33 1073.72L777.93 1073.72Z" fill="none" stroke="#0a0a0a" stroke-width="2.2" stroke-linejoin="miter"/>
<path d="M816.46 1054.59L820.16 1062.18L812.76 1062.18Z" fill="none" stroke="#0a0a0a" stroke-width="2.2" stroke-linejoin="miter"/>
<path d="M851.28 996.9L854.98 1004.49L847.58 1004.49Z" fill="none" stroke="#0a0a0a" stroke-width="2.2" stroke-linejoin="miter"/>
<path d="M886.11 962.29L889.81 969.87L882.41 969.87Z" fill="none" stroke="#0a0a0a" stroke-width="2.2" stroke-linejoin="miter"/>
<path d="M920.94 927.68L924.64 935.26L917.24 935.26Z" fill="none" stroke="#0a0a0a" stroke-width="2.2" stroke-linejoin="miter"/>
<path d="M955.77 927.68L959.47 935.26L952.07 935.26Z" fill="none" stroke="#0a0a0a" stroke-width="2.2" stroke-linejoin="miter"/>
<path d="M990.6 927.68L994.3 935.26L986.9 935.26Z" fill="none" stroke="#0a0a0a" stroke-width="2.2" stroke-linejoin="miter"/>
<path d="M1025.42 927.68L1029.12 935.26L1021.72 935.26Z" fill="none" stroke="#0a0a0a" stroke-width="2.2" stroke-linejoin="miter"/>
<path d="M743.75 1278L778.83 1070.32L813.91 1047.24L848.98 1012.63" fill="none" stroke="#0a0a0a" stroke-width="4.4" stroke-linecap="round" stroke-linejoin="round" stroke-dasharray="26.2 16.9 0.01 16.9"/>
<path d="M848.98 1012.63L884.06 978.01L919.14 966.47L954.22 989.55L989.3 966.47L1024.38 931.86L1059.45 931.86" fill="none" stroke="#0a0a0a" stroke-width="4.4" stroke-linecap="round" stroke-linejoin="round" stroke-dasharray="26.2 16.9 0.01 16.9" stroke-dashoffset="40.8"/>
<rect x="739" y="1271.8" width="11.2" height="11.2" rx="1" fill="#0a0a0a"/>
<rect x="773.83" y="1064.12" width="11.2" height="11.2" rx="1" fill="#0a0a0a"/>
<rect x="808.66" y="1041.04" width="11.2" height="11.2" rx="1" fill="#0a0a0a"/>
<rect x="843.48" y="1006.43" width="11.2" height="11.2" rx="1" fill="#0a0a0a"/>
<rect x="878.31" y="971.81" width="11.2" height="11.2" rx="1" fill="#0a0a0a"/>
<rect x="913.14" y="960.27" width="11.2" height="11.2" rx="1" fill="#0a0a0a"/>
<rect x="947.97" y="983.35" width="11.2" height="11.2" rx="1" fill="#0a0a0a"/>
<rect x="982.8" y="960.27" width="11.2" height="11.2" rx="1" fill="#0a0a0a"/>
<rect x="1017.62" y="925.66" width="11.2" height="11.2" rx="1" fill="#0a0a0a"/>
<rect x="1052.45" y="925.66" width="11.2" height="11.2" rx="1" fill="#0a0a0a"/>
<path d="M743.75 1278L778.83 1070.32L813.91 1047.24L848.98 989.55L884.06 978.01L919.14 931.86L954.22 931.86L989.3 931.86L1024.38 931.86" fill="none" stroke="#0a0a0a" stroke-width="4.2" stroke-linecap="round" stroke-linejoin="round" stroke-dasharray="10.3 16.1 0.01 16.1"/>
<rect x="740.65" y="1273.45" width="7.9" height="7.9" fill="none" stroke="#0a0a0a" stroke-width="2.4"/>
<rect x="775.48" y="1065.77" width="7.9" height="7.9" fill="none" stroke="#0a0a0a" stroke-width="2.4"/>
<rect x="810.31" y="1042.69" width="7.9" height="7.9" fill="none" stroke="#0a0a0a" stroke-width="2.4"/>
<rect x="845.13" y="985" width="7.9" height="7.9" fill="none" stroke="#0a0a0a" stroke-width="2.4"/>
<rect x="879.96" y="973.46" width="7.9" height="7.9" fill="none" stroke="#0a0a0a" stroke-width="2.4"/>
<rect x="914.79" y="927.31" width="7.9" height="7.9" fill="none" stroke="#0a0a0a" stroke-width="2.4"/>
<rect x="949.62" y="927.31" width="7.9" height="7.9" fill="none" stroke="#0a0a0a" stroke-width="2.4"/>
<rect x="984.45" y="927.31" width="7.9" height="7.9" fill="none" stroke="#0a0a0a" stroke-width="2.4"/>
<rect x="1019.27" y="927.31" width="7.9" height="7.9" fill="none" stroke="#0a0a0a" stroke-width="2.4"/>
<path d="M743.75 1278L778.83 1070.32L813.91 1024.16L848.98 997.24L884.06 960.7L919.14 931.86L954.22 931.86L989.3 931.86L1024.38 931.86" fill="none" stroke="#0a0a0a" stroke-width="4.4" stroke-linecap="round" stroke-linejoin="round" stroke-dasharray="10.5 18.3"/>
<path d="M746.8 1271.9L752.6 1282.63L741 1282.63Z" fill="#0a0a0a"/>
<path d="M781.63 1064.22L787.43 1074.95L775.83 1074.95Z" fill="#0a0a0a"/>
<path d="M816.46 1018.06L822.26 1028.79L810.66 1028.79Z" fill="#0a0a0a"/>
<path d="M851.28 991.14L857.08 1001.87L845.48 1001.87Z" fill="#0a0a0a"/>
<path d="M920.94 925.76L926.74 936.49L915.14 936.49Z" fill="#0a0a0a"/>
<path d="M955.77 925.76L961.57 936.49L949.97 936.49Z" fill="#0a0a0a"/>
<path d="M990.6 925.76L996.4 936.49L984.8 936.49Z" fill="#0a0a0a"/>
<path d="M1025.42 925.76L1031.22 936.49L1019.62 936.49Z" fill="#0a0a0a"/>
<path d="M743.75 1278L778.83 1070.32L813.91 1047.24L848.98 1001.09L884.06 966.47L919.14 931.86L954.22 931.86L989.3 931.86L1024.38 931.86L1059.45 931.86L1094.53 931.86L1129.61 931.86L1164.69 931.86L1199.77 931.86L1234.84 931.86" fill="none" stroke="#0a0a0a" stroke-width="5.4" stroke-linecap="round" stroke-linejoin="round"/>
<circle cx="744.6" cy="1277.4" r="4.25" fill="none" stroke="#0a0a0a" stroke-width="2.3"/>
<circle cx="779.43" cy="1069.72" r="4.25" fill="none" stroke="#0a0a0a" stroke-width="2.3"/>
<circle cx="814.26" cy="1046.64" r="4.25" fill="none" stroke="#0a0a0a" stroke-width="2.3"/>
<circle cx="849.08" cy="1000.49" r="4.25" fill="none" stroke="#0a0a0a" stroke-width="2.3"/>
<circle cx="883.91" cy="965.87" r="4.25" fill="none" stroke="#0a0a0a" stroke-width="2.3"/>
<circle cx="918.74" cy="931.26" r="4.25" fill="none" stroke="#0a0a0a" stroke-width="2.3"/>
<circle cx="953.57" cy="931.26" r="4.25" fill="none" stroke="#0a0a0a" stroke-width="2.3"/>
<circle cx="988.4" cy="931.26" r="4.25" fill="none" stroke="#0a0a0a" stroke-width="2.3"/>
<circle cx="1023.23" cy="931.26" r="4.25" fill="none" stroke="#0a0a0a" stroke-width="2.3"/>
<circle cx="1058.05" cy="931.26" r="4.25" fill="none" stroke="#0a0a0a" stroke-width="2.3"/>
<circle cx="1092.88" cy="931.26" r="4.25" fill="none" stroke="#0a0a0a" stroke-width="2.3"/>
<circle cx="1127.71" cy="931.26" r="4.25" fill="none" stroke="#0a0a0a" stroke-width="2.3"/>
<circle cx="1162.54" cy="931.26" r="4.25" fill="none" stroke="#0a0a0a" stroke-width="2.3"/>
<circle cx="1197.37" cy="931.26" r="4.25" fill="none" stroke="#0a0a0a" stroke-width="2.3"/>
<circle cx="1232.19" cy="931.26" r="4.25" fill="none" stroke="#0a0a0a" stroke-width="2.3"/>
</g>
<g id="legend"><path d="M1264.7 19.6H1342.7" stroke="#0a0a0a" stroke-width="3.2" stroke-dasharray="3.3 3.6" fill="none"/>
<path d="M1306.8 12.3L1315.2 19.6L1306.8 26.900000000000002L1298.3999999999999 19.6Z" fill="#0a0a0a"/>
<text x="1356.5" y="29.6" font-family='"Liberation Serif", serif' font-size="26.5" textLength="39.5" lengthAdjust="spacingAndGlyphs" fill="#111">M1</text>
<path d="M1264.7 80.7H1342.7" stroke="#0a0a0a" stroke-width="3.2" stroke-dasharray="7.4 6.6" fill="none"/>
<path d="M1306.8 76.4L1312.3999999999999 86.4L1301.2 86.4Z" fill="none" stroke="#0a0a0a" stroke-width="3" stroke-linejoin="miter"/>
<text x="1356.5" y="90.7" font-family='"Liberation Serif", serif' font-size="26.5" textLength="39.5" lengthAdjust="spacingAndGlyphs" fill="#111">M2</text>
<path d="M1264.7 145.2H1291.3M1315 145.2H1342.7" stroke="#0a0a0a" stroke-width="3.2" fill="none"/>
<rect x="1298.3" y="138.39999999999998" width="17" height="13.6" rx="1" fill="#0a0a0a"/>
<text x="1356.5" y="155.2" font-family='"Liberation Serif", serif' font-size="26.5" textLength="39.5" lengthAdjust="spacingAndGlyphs" fill="#111">M3</text>
<path d="M1264.7 206.3H1278M1288.3 206.3h3.7M1325.3 206.3h3.7M1338.7 206.3H1350" stroke="#0a0a0a" stroke-width="3.2" fill="none"/>
<rect x="1299.8999999999999" y="200.9" width="13.8" height="11.6" fill="none" stroke="#0a0a0a" stroke-width="3.2"/><path d="M1299.8999999999999 206.5h13.8" stroke="#0a0a0a" stroke-width="2.6"/>
<text x="1356.5" y="216.3" font-family='"Liberation Serif", serif' font-size="26.5" textLength="39.5" lengthAdjust="spacingAndGlyphs" fill="#111">M4</text>
<path d="M1264.7 270.7H1278M1288.3 270.7H1325.3M1336 270.7H1350" stroke="#0a0a0a" stroke-width="3.2" fill="none"/>
<path d="M1306.8 263.3L1315.3 277.3L1298.3 277.3Z" fill="#0a0a0a"/>
<text x="1356.5" y="280.7" font-family='"Liberation Serif", serif' font-size="26.5" textLength="39.5" lengthAdjust="spacingAndGlyphs" fill="#111">M5</text>
<path d="M1264.7 331.6H1350" stroke="#0a0a0a" stroke-width="3.2" fill="none"/>
<ellipse cx="1305.3" cy="330.3" rx="6.6" ry="5.6" fill="none" stroke="#0a0a0a" stroke-width="2.9"/>
<text x="1356.5" y="341.6" font-family='"Liberation Serif", serif' font-size="26.5" textLength="39.5" lengthAdjust="spacingAndGlyphs" fill="#111">M6</text></g>
</svg>
</body></html>
